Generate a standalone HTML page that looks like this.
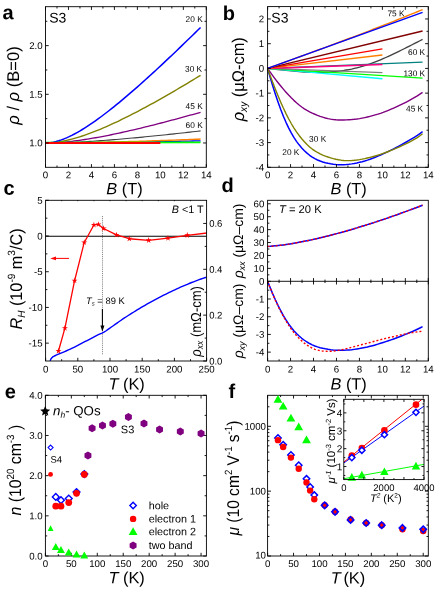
<!DOCTYPE html>
<html><head><meta charset="utf-8"><title>figure</title>
<style>html,body{margin:0;padding:0;background:#fff;}svg{display:block;will-change:transform;opacity:0.999;}text{font-family:"Liberation Sans",sans-serif;text-rendering:geometricPrecision;}</style></head>
<body>
<svg width="442" height="589" viewBox="0 0 442 589" font-family='"Liberation Sans", sans-serif'>
<rect x="0" y="0" width="442" height="589" fill="#fff"/>
<g>
<polyline points="45.5,142.97 48.13,142.97 50.76,142.96 53.38,142.96 56.01,142.95 58.64,142.94 61.27,142.93 63.9,142.92 66.52,142.91 69.15,142.89 71.78,142.87 74.41,142.86 77.04,142.84 79.67,142.82 82.29,142.79 84.92,142.77 87.55,142.74 90.18,142.72 92.81,142.69 95.43,142.66 98.06,142.63 100.69,142.6 103.32,142.57 105.95,142.54 108.57,142.5 111.2,142.47 113.83,142.43 116.46,142.39 119.09,142.35 121.71,142.32 124.34,142.28 126.97,142.24 129.6,142.19 132.23,142.15 134.85,142.11 137.48,142.07 140.11,142.02 142.74,141.98 145.37,141.93 148,141.88 150.62,141.84 153.25,141.79 155.88,141.74 158.51,141.69 161.14,141.64 163.76,141.59 166.39,141.54 169.02,141.49 171.65,141.43 174.28,141.38 176.9,141.33 179.53,141.27 182.16,141.22 184.79,141.16 187.42,141.11 190.04,141.05 192.67,141 195.3,140.94 197.93,140.88 200.56,140.83" fill="none" stroke="#00f" stroke-width="1.3" stroke-linejoin="round" stroke-linecap="butt" />
<polyline points="45.5,142.97 48.13,142.96 50.76,142.96 53.38,142.95 56.01,142.94 58.64,142.92 61.27,142.9 63.9,142.88 66.52,142.86 69.15,142.83 71.78,142.8 74.41,142.77 77.04,142.73 79.67,142.69 82.29,142.65 84.92,142.61 87.55,142.56 90.18,142.51 92.81,142.46 95.43,142.41 98.06,142.36 100.69,142.3 103.32,142.24 105.95,142.18 108.57,142.12 111.2,142.06 113.83,141.99 116.46,141.92 119.09,141.85 121.71,141.78 124.34,141.71 126.97,141.64 129.6,141.56 132.23,141.49 134.85,141.41 137.48,141.33 140.11,141.25 142.74,141.16 145.37,141.08 148,141 150.62,140.91 153.25,140.82 155.88,140.73 158.51,140.64 161.14,140.55 163.76,140.46 166.39,140.37 169.02,140.28 171.65,140.18 174.28,140.08 176.9,139.99 179.53,139.89 182.16,139.79 184.79,139.69 187.42,139.59 190.04,139.49 192.67,139.39 195.3,139.28 197.93,139.18 200.56,139.07" fill="none" stroke="#ff8000" stroke-width="1.4" stroke-linejoin="round" stroke-linecap="butt" />
<polyline points="45.5,142.97 48.13,142.96 50.76,142.94 53.38,142.91 56.01,142.86 58.64,142.8 61.27,142.73 63.9,142.65 66.52,142.56 69.15,142.47 71.78,142.36 74.41,142.24 77.04,142.12 79.67,141.98 82.29,141.84 84.92,141.69 87.55,141.54 90.18,141.38 92.81,141.21 95.43,141.04 98.06,140.86 100.69,140.67 103.32,140.48 105.95,140.28 108.57,140.08 111.2,139.87 113.83,139.66 116.46,139.45 119.09,139.23 121.71,139 124.34,138.78 126.97,138.55 129.6,138.31 132.23,138.07 134.85,137.83 137.48,137.58 140.11,137.33 142.74,137.08 145.37,136.82 148,136.57 150.62,136.31 153.25,136.04 155.88,135.77 158.51,135.51 161.14,135.23 163.76,134.96 166.39,134.68 169.02,134.4 171.65,134.12 174.28,133.84 176.9,133.55 179.53,133.27 182.16,132.98 184.79,132.68 187.42,132.39 190.04,132.1 192.67,131.8 195.3,131.5 197.93,131.2 200.56,130.9" fill="none" stroke="#404040" stroke-width="1.1" stroke-linejoin="round" stroke-linecap="butt" />
<polyline points="45.5,142.97 48.13,142.95 50.76,142.89 53.38,142.79 56.01,142.66 58.64,142.5 61.27,142.31 63.9,142.09 66.52,141.85 69.15,141.58 71.78,141.28 74.41,140.97 77.04,140.63 79.67,140.27 82.29,139.89 84.92,139.5 87.55,139.09 90.18,138.66 92.81,138.22 95.43,137.76 98.06,137.29 100.69,136.8 103.32,136.3 105.95,135.79 108.57,135.27 111.2,134.74 113.83,134.19 116.46,133.64 119.09,133.08 121.71,132.5 124.34,131.92 126.97,131.33 129.6,130.73 132.23,130.12 134.85,129.51 137.48,128.89 140.11,128.26 142.74,127.62 145.37,126.98 148,126.33 150.62,125.68 153.25,125.01 155.88,124.35 158.51,123.68 161.14,123 163.76,122.32 166.39,121.63 169.02,120.94 171.65,120.24 174.28,119.54 176.9,118.83 179.53,118.12 182.16,117.41 184.79,116.69 187.42,115.97 190.04,115.24 192.67,114.51 195.3,113.78 197.93,113.05 200.56,112.31" fill="none" stroke="#800080" stroke-width="1.3" stroke-linejoin="round" stroke-linecap="butt" />
<polyline points="45.5,142.97 48.13,142.92 50.76,142.78 53.38,142.56 56.01,142.26 58.64,141.89 61.27,141.46 63.9,140.95 66.52,140.39 69.15,139.78 71.78,139.11 74.41,138.39 77.04,137.63 79.67,136.82 82.29,135.97 84.92,135.08 87.55,134.15 90.18,133.19 92.81,132.2 95.43,131.17 98.06,130.12 100.69,129.03 103.32,127.92 105.95,126.79 108.57,125.63 111.2,124.44 113.83,123.23 116.46,122.01 119.09,120.76 121.71,119.49 124.34,118.2 126.97,116.9 129.6,115.58 132.23,114.24 134.85,112.88 137.48,111.52 140.11,110.13 142.74,108.73 145.37,107.32 148,105.9 150.62,104.46 153.25,103.02 155.88,101.56 158.51,100.09 161.14,98.6 163.76,97.11 166.39,95.61 169.02,94.1 171.65,92.58 174.28,91.05 176.9,89.51 179.53,87.96 182.16,86.41 184.79,84.85 187.42,83.28 190.04,81.7 192.67,80.11 195.3,78.52 197.93,76.92 200.56,75.32" fill="none" stroke="#808000" stroke-width="1.4" stroke-linejoin="round" stroke-linecap="butt" />
<polyline points="45.5,142.97 48.13,142.87 50.76,142.58 53.38,142.13 56.01,141.52 58.64,140.78 61.27,139.91 63.9,138.93 66.52,137.83 69.15,136.65 71.78,135.37 74.41,134.01 77.04,132.57 79.67,131.07 82.29,129.49 84.92,127.86 87.55,126.17 90.18,124.43 92.81,122.63 95.43,120.79 98.06,118.91 100.69,116.98 103.32,115.02 105.95,113.02 108.57,110.99 111.2,108.92 113.83,106.82 116.46,104.7 119.09,102.55 121.71,100.37 124.34,98.16 126.97,95.94 129.6,93.69 132.23,91.42 134.85,89.13 137.48,86.82 140.11,84.5 142.74,82.15 145.37,79.79 148,77.42 150.62,75.03 153.25,72.62 155.88,70.2 158.51,67.77 161.14,65.33 163.76,62.87 166.39,60.4 169.02,57.92 171.65,55.43 174.28,52.93 176.9,50.42 179.53,47.9 182.16,45.37 184.79,42.83 187.42,40.28 190.04,37.73 192.67,35.17 195.3,32.6 197.93,30.02 200.56,27.43" fill="none" stroke="#00f" stroke-width="1.5" stroke-linejoin="round" stroke-linecap="butt" />
<polyline points="45.5,142.67 200.56,142.38" fill="none" stroke="#0f0" stroke-width="1.8" stroke-linejoin="round" stroke-linecap="butt" />
<polyline points="45.5,142.97 160.36,142.97" fill="none" stroke="#f00" stroke-width="2.0" stroke-linejoin="round" stroke-linecap="butt" />
</g>
<rect x="45.5" y="6.7" width="160.8" height="160.6" fill="none" stroke="#000" stroke-width="0.9"/>
<line x1="45.5" y1="167.3" x2="45.5" y2="164.1" stroke="#000" stroke-width="0.9" />
<line x1="45.5" y1="6.7" x2="45.5" y2="9.9" stroke="#000" stroke-width="0.9" />
<line x1="68.47" y1="167.3" x2="68.47" y2="164.1" stroke="#000" stroke-width="0.9" />
<line x1="68.47" y1="6.7" x2="68.47" y2="9.9" stroke="#000" stroke-width="0.9" />
<line x1="91.44" y1="167.3" x2="91.44" y2="164.1" stroke="#000" stroke-width="0.9" />
<line x1="91.44" y1="6.7" x2="91.44" y2="9.9" stroke="#000" stroke-width="0.9" />
<line x1="114.41" y1="167.3" x2="114.41" y2="164.1" stroke="#000" stroke-width="0.9" />
<line x1="114.41" y1="6.7" x2="114.41" y2="9.9" stroke="#000" stroke-width="0.9" />
<line x1="137.39" y1="167.3" x2="137.39" y2="164.1" stroke="#000" stroke-width="0.9" />
<line x1="137.39" y1="6.7" x2="137.39" y2="9.9" stroke="#000" stroke-width="0.9" />
<line x1="160.36" y1="167.3" x2="160.36" y2="164.1" stroke="#000" stroke-width="0.9" />
<line x1="160.36" y1="6.7" x2="160.36" y2="9.9" stroke="#000" stroke-width="0.9" />
<line x1="183.33" y1="167.3" x2="183.33" y2="164.1" stroke="#000" stroke-width="0.9" />
<line x1="183.33" y1="6.7" x2="183.33" y2="9.9" stroke="#000" stroke-width="0.9" />
<line x1="206.3" y1="167.3" x2="206.3" y2="164.1" stroke="#000" stroke-width="0.9" />
<line x1="206.3" y1="6.7" x2="206.3" y2="9.9" stroke="#000" stroke-width="0.9" />
<line x1="56.99" y1="167.3" x2="56.99" y2="165.5" stroke="#000" stroke-width="0.9" />
<line x1="56.99" y1="6.7" x2="56.99" y2="8.5" stroke="#000" stroke-width="0.9" />
<line x1="79.96" y1="167.3" x2="79.96" y2="165.5" stroke="#000" stroke-width="0.9" />
<line x1="79.96" y1="6.7" x2="79.96" y2="8.5" stroke="#000" stroke-width="0.9" />
<line x1="102.93" y1="167.3" x2="102.93" y2="165.5" stroke="#000" stroke-width="0.9" />
<line x1="102.93" y1="6.7" x2="102.93" y2="8.5" stroke="#000" stroke-width="0.9" />
<line x1="125.9" y1="167.3" x2="125.9" y2="165.5" stroke="#000" stroke-width="0.9" />
<line x1="125.9" y1="6.7" x2="125.9" y2="8.5" stroke="#000" stroke-width="0.9" />
<line x1="148.87" y1="167.3" x2="148.87" y2="165.5" stroke="#000" stroke-width="0.9" />
<line x1="148.87" y1="6.7" x2="148.87" y2="8.5" stroke="#000" stroke-width="0.9" />
<line x1="171.84" y1="167.3" x2="171.84" y2="165.5" stroke="#000" stroke-width="0.9" />
<line x1="171.84" y1="6.7" x2="171.84" y2="8.5" stroke="#000" stroke-width="0.9" />
<line x1="194.81" y1="167.3" x2="194.81" y2="165.5" stroke="#000" stroke-width="0.9" />
<line x1="194.81" y1="6.7" x2="194.81" y2="8.5" stroke="#000" stroke-width="0.9" />
<line x1="45.5" y1="142.97" x2="48.7" y2="142.97" stroke="#000" stroke-width="0.9" />
<line x1="206.3" y1="142.97" x2="203.1" y2="142.97" stroke="#000" stroke-width="0.9" />
<line x1="45.5" y1="94.3" x2="48.7" y2="94.3" stroke="#000" stroke-width="0.9" />
<line x1="206.3" y1="94.3" x2="203.1" y2="94.3" stroke="#000" stroke-width="0.9" />
<line x1="45.5" y1="45.63" x2="48.7" y2="45.63" stroke="#000" stroke-width="0.9" />
<line x1="206.3" y1="45.63" x2="203.1" y2="45.63" stroke="#000" stroke-width="0.9" />
<line x1="45.5" y1="118.63" x2="47.3" y2="118.63" stroke="#000" stroke-width="0.9" />
<line x1="206.3" y1="118.63" x2="204.5" y2="118.63" stroke="#000" stroke-width="0.9" />
<line x1="45.5" y1="69.97" x2="47.3" y2="69.97" stroke="#000" stroke-width="0.9" />
<line x1="206.3" y1="69.97" x2="204.5" y2="69.97" stroke="#000" stroke-width="0.9" />
<line x1="45.5" y1="21.3" x2="47.3" y2="21.3" stroke="#000" stroke-width="0.9" />
<line x1="206.3" y1="21.3" x2="204.5" y2="21.3" stroke="#000" stroke-width="0.9" />
<text x="0" y="0" font-size="9.7" text-anchor="middle" font-weight="normal" font-style="normal" fill="#000" transform="translate(45.5 178.3) rotate(0.03) scale(1 1)" >0</text>
<text x="0" y="0" font-size="9.7" text-anchor="middle" font-weight="normal" font-style="normal" fill="#000" transform="translate(68.47 178.3) rotate(0.03) scale(1 1)" >2</text>
<text x="0" y="0" font-size="9.7" text-anchor="middle" font-weight="normal" font-style="normal" fill="#000" transform="translate(91.44 178.3) rotate(0.03) scale(1 1)" >4</text>
<text x="0" y="0" font-size="9.7" text-anchor="middle" font-weight="normal" font-style="normal" fill="#000" transform="translate(114.41 178.3) rotate(0.03) scale(1 1)" >6</text>
<text x="0" y="0" font-size="9.7" text-anchor="middle" font-weight="normal" font-style="normal" fill="#000" transform="translate(137.39 178.3) rotate(0.03) scale(1 1)" >8</text>
<text x="0" y="0" font-size="9.7" text-anchor="middle" font-weight="normal" font-style="normal" fill="#000" transform="translate(160.36 178.3) rotate(0.03) scale(1 1)" >10</text>
<text x="0" y="0" font-size="9.7" text-anchor="middle" font-weight="normal" font-style="normal" fill="#000" transform="translate(183.33 178.3) rotate(0.03) scale(1 1)" >12</text>
<text x="0" y="0" font-size="9.7" text-anchor="middle" font-weight="normal" font-style="normal" fill="#000" transform="translate(206.3 178.3) rotate(0.03) scale(1 1)" >14</text>
<text x="0" y="0" font-size="9.7" text-anchor="end" font-weight="normal" font-style="normal" fill="#000" transform="translate(42.7 146.37) rotate(0.03) scale(1 1)" >1.0</text>
<text x="0" y="0" font-size="9.7" text-anchor="end" font-weight="normal" font-style="normal" fill="#000" transform="translate(42.7 97.7) rotate(0.03) scale(1 1)" >1.5</text>
<text x="0" y="0" font-size="9.7" text-anchor="end" font-weight="normal" font-style="normal" fill="#000" transform="translate(42.7 49.03) rotate(0.03) scale(1 1)" >2.0</text>
<text x="0" y="0" font-size="16.4" text-anchor="middle" font-weight="normal" font-style="normal" fill="#000" transform="translate(124.4 194.2) rotate(0.03) scale(1 1)" ><tspan font-style="italic">B</tspan> (T)</text>
<text x="0" y="0" font-size="17" text-anchor="middle" font-weight="normal" font-style="normal" fill="#000" transform="translate(18.6 85.5) rotate(-90) scale(0.975 1)" ><tspan font-style="italic">&#961;</tspan> / <tspan font-style="italic">&#961;</tspan> (B=0)</text>
<text x="0" y="0" font-size="20" text-anchor="start" font-weight="bold" font-style="normal" fill="#000" transform="translate(2.5 19.2) rotate(0.03) scale(1 1)" >a</text>
<text x="0" y="0" font-size="14" text-anchor="start" font-weight="normal" font-style="normal" fill="#000" transform="translate(49.2 22.6) rotate(0.03) scale(1 1)" >S3</text>
<text x="0" y="0" font-size="8.3" text-anchor="end" font-weight="normal" font-style="normal" fill="#000" transform="translate(202.7 22) rotate(0.03) scale(1 1)" >20 K</text>
<text x="0" y="0" font-size="8.3" text-anchor="end" font-weight="normal" font-style="normal" fill="#000" transform="translate(202.1 71.7) rotate(0.03) scale(1 1)" >30 K</text>
<text x="0" y="0" font-size="8.3" text-anchor="end" font-weight="normal" font-style="normal" fill="#000" transform="translate(202.7 109) rotate(0.03) scale(1 1)" >45 K</text>
<text x="0" y="0" font-size="8.3" text-anchor="end" font-weight="normal" font-style="normal" fill="#000" transform="translate(202.7 128) rotate(0.03) scale(1 1)" >60 K</text>
<g>
<polyline points="267.6,68.41 270.23,72.18 272.85,75.83 275.48,79.35 278.11,82.76 280.73,86.03 283.36,89.17 285.99,92.18 288.61,95.05 291.24,97.78 293.86,100.36 296.49,102.78 299.12,105 301.74,107.01 304.37,108.8 307,110.38 309.62,111.8 312.25,113.07 314.88,114.25 317.5,115.33 320.13,116.32 322.76,117.2 325.38,117.96 328.01,118.59 330.63,119.11 333.26,119.5 335.89,119.78 338.51,119.95 341.14,120.02 343.77,120 346.39,119.91 349.02,119.76 351.65,119.56 354.27,119.3 356.9,118.97 359.53,118.58 362.15,118.11 364.78,117.58 367.41,116.99 370.03,116.35 372.66,115.66 375.28,114.93 377.91,114.15 380.54,113.3 383.16,112.38 385.79,111.38 388.42,110.32 391.04,109.2 393.67,108.05 396.3,106.87 398.92,105.66 401.55,104.41 404.18,103.12 406.8,101.77 409.43,100.37 412.05,98.91 414.68,97.39 417.31,95.8 419.93,94.13 422.56,92.39" fill="none" stroke="#800080" stroke-width="1.4" stroke-linejoin="round" stroke-linecap="butt" />
<polyline points="267.6,68.41 270.23,77.59 272.85,86.3 275.48,94.53 278.11,102.26 280.73,109.48 283.36,116.18 285.99,122.33 288.61,127.92 291.24,132.94 293.86,137.4 296.49,141.35 299.12,144.84 301.74,147.94 304.37,150.7 307,153.14 309.62,155.28 312.25,157.12 314.88,158.68 317.5,159.98 320.13,161.06 322.76,161.95 325.38,162.71 328.01,163.34 330.63,163.86 333.26,164.26 335.89,164.54 338.51,164.69 341.14,164.73 343.77,164.65 346.39,164.48 349.02,164.22 351.65,163.87 354.27,163.44 356.9,162.92 359.53,162.33 362.15,161.66 364.78,160.92 367.41,160.1 370.03,159.21 372.66,158.25 375.28,157.22 377.91,156.14 380.54,155.01 383.16,153.85 385.79,152.65 388.42,151.43 391.04,150.16 393.67,148.86 396.3,147.51 398.92,146.12 401.55,144.69 404.18,143.23 406.8,141.75 409.43,140.22 412.05,138.65 414.68,137.03 417.31,135.34 419.93,133.56 422.56,131.7" fill="none" stroke="#00f" stroke-width="1.5" stroke-linejoin="round" stroke-linecap="butt" />
<polyline points="267.6,68.41 270.23,75.67 272.85,82.71 275.48,89.49 278.11,95.99 280.73,102.19 283.36,108.06 285.99,113.59 288.61,118.74 291.24,123.5 293.86,127.85 296.49,131.83 299.12,135.46 301.74,138.77 304.37,141.78 307,144.5 309.62,146.93 312.25,149.07 314.88,150.92 317.5,152.49 320.13,153.85 322.76,155.03 325.38,156.08 328.01,157.03 330.63,157.88 333.26,158.63 335.89,159.26 338.51,159.78 341.14,160.18 343.77,160.45 346.39,160.6 349.02,160.62 351.65,160.52 354.27,160.31 356.9,160.01 359.53,159.62 362.15,159.16 364.78,158.63 367.41,158.03 370.03,157.39 372.66,156.7 375.28,155.96 377.91,155.17 380.54,154.33 383.16,153.43 385.79,152.48 388.42,151.48 391.04,150.43 393.67,149.33 396.3,148.2 398.92,147.04 401.55,145.84 404.18,144.61 406.8,143.36 409.43,142.07 412.05,140.69 414.68,139.2 417.31,137.56 419.93,135.73 422.56,133.68" fill="none" stroke="#808000" stroke-width="1.4" stroke-linejoin="round" stroke-linecap="butt" />
<polyline points="267.6,68.41 270.23,68.69 272.85,68.97 275.48,69.26 278.11,69.55 280.73,69.84 283.36,70.13 285.99,70.41 288.61,70.68 291.24,70.95 293.86,71.2 296.49,71.43 299.12,71.64 301.74,71.83 304.37,72 307,72.14 309.62,72.26 312.25,72.34 314.88,72.38 317.5,72.39 320.13,72.37 322.76,72.31 325.38,72.21 328.01,72.07 330.63,71.9 333.26,71.69 335.89,71.44 338.51,71.14 341.14,70.81 343.77,70.44 346.39,70.01 349.02,69.54 351.65,69.03 354.27,68.45 356.9,67.83 359.53,67.15 362.15,66.4 364.78,65.61 367.41,64.76 370.03,63.86 372.66,62.91 375.28,61.91 377.91,60.87 380.54,59.8 383.16,58.68 385.79,57.52 388.42,56.34 391.04,55.12 393.67,53.88 396.3,52.62 398.92,51.34 401.55,50.04 404.18,48.72 406.8,47.4 409.43,46.07 412.05,44.73 414.68,43.39 417.31,42.06 419.93,40.73 422.56,39.41" fill="none" stroke="#404040" stroke-width="1.3" stroke-linejoin="round" stroke-linecap="butt" />
<polyline points="267.6,68.41 382.39,78.79" fill="none" stroke="#0ff" stroke-width="1.4" stroke-linejoin="round" stroke-linecap="butt" />
<polyline points="267.6,68.41 422.56,78.05" fill="none" stroke="#0f0" stroke-width="1.3" stroke-linejoin="round" stroke-linecap="butt" />
<polyline points="267.6,68.41 382.39,72.71" fill="none" stroke="#808080" stroke-width="1.3" stroke-linejoin="round" stroke-linecap="butt" />
<polyline points="267.6,68.41 422.56,62.1" fill="none" stroke="#008080" stroke-width="1.3" stroke-linejoin="round" stroke-linecap="butt" />
<polyline points="267.6,68.41 382.39,64.45" fill="none" stroke="#ff0080" stroke-width="1.5" stroke-linejoin="round" stroke-linecap="butt" />
<polyline points="267.6,68.41 382.39,55.06" fill="none" stroke="#ff8000" stroke-width="1.4" stroke-linejoin="round" stroke-linecap="butt" />
<polyline points="267.6,68.41 382.39,48.88" fill="none" stroke="#f00" stroke-width="1.4" stroke-linejoin="round" stroke-linecap="butt" />
<polyline points="267.6,68.41 422.56,31" fill="none" stroke="#800000" stroke-width="1.4" stroke-linejoin="round" stroke-linecap="butt" />
<polyline points="267.6,68.41 270.23,67.46 272.85,66.51 275.48,65.55 278.11,64.6 280.73,63.65 283.36,62.7 285.99,61.74 288.61,60.79 291.24,59.84 293.86,58.88 296.49,57.93 299.12,56.97 301.74,56.01 304.37,55.05 307,54.09 309.62,53.13 312.25,52.17 314.88,51.21 317.5,50.24 320.13,49.28 322.76,48.31 325.38,47.34 328.01,46.37 330.63,45.4 333.26,44.42 335.89,43.44 338.51,42.46 341.14,41.48 343.77,40.5 346.39,39.51 349.02,38.53 351.65,37.54 354.27,36.54 356.9,35.55 359.53,34.55 362.15,33.55 364.78,32.54 367.41,31.54 370.03,30.53 372.66,29.51 375.28,28.5 377.91,27.48 380.54,26.45 383.16,25.43 385.79,24.4 388.42,23.36 391.04,22.33 393.67,21.29 396.3,20.24 398.92,19.19 401.55,18.14 404.18,17.08 406.8,16.02 409.43,14.96 412.05,13.89 414.68,12.81 417.31,11.74 419.93,10.65 422.56,9.57" fill="none" stroke="#ff8000" stroke-width="1.4" stroke-linejoin="round" stroke-linecap="butt" />
<polyline points="267.6,68.41 422.56,12.29" fill="none" stroke="#00f" stroke-width="1.4" stroke-linejoin="round" stroke-linecap="butt" />
</g>
<rect x="267.6" y="6.6" width="160.7" height="160.7" fill="none" stroke="#000" stroke-width="0.9"/>
<line x1="267.6" y1="167.3" x2="267.6" y2="164.1" stroke="#000" stroke-width="0.9" />
<line x1="267.6" y1="6.6" x2="267.6" y2="9.8" stroke="#000" stroke-width="0.9" />
<line x1="290.56" y1="167.3" x2="290.56" y2="164.1" stroke="#000" stroke-width="0.9" />
<line x1="290.56" y1="6.6" x2="290.56" y2="9.8" stroke="#000" stroke-width="0.9" />
<line x1="313.51" y1="167.3" x2="313.51" y2="164.1" stroke="#000" stroke-width="0.9" />
<line x1="313.51" y1="6.6" x2="313.51" y2="9.8" stroke="#000" stroke-width="0.9" />
<line x1="336.47" y1="167.3" x2="336.47" y2="164.1" stroke="#000" stroke-width="0.9" />
<line x1="336.47" y1="6.6" x2="336.47" y2="9.8" stroke="#000" stroke-width="0.9" />
<line x1="359.43" y1="167.3" x2="359.43" y2="164.1" stroke="#000" stroke-width="0.9" />
<line x1="359.43" y1="6.6" x2="359.43" y2="9.8" stroke="#000" stroke-width="0.9" />
<line x1="382.39" y1="167.3" x2="382.39" y2="164.1" stroke="#000" stroke-width="0.9" />
<line x1="382.39" y1="6.6" x2="382.39" y2="9.8" stroke="#000" stroke-width="0.9" />
<line x1="405.34" y1="167.3" x2="405.34" y2="164.1" stroke="#000" stroke-width="0.9" />
<line x1="405.34" y1="6.6" x2="405.34" y2="9.8" stroke="#000" stroke-width="0.9" />
<line x1="428.3" y1="167.3" x2="428.3" y2="164.1" stroke="#000" stroke-width="0.9" />
<line x1="428.3" y1="6.6" x2="428.3" y2="9.8" stroke="#000" stroke-width="0.9" />
<line x1="279.08" y1="167.3" x2="279.08" y2="165.5" stroke="#000" stroke-width="0.9" />
<line x1="279.08" y1="6.6" x2="279.08" y2="8.4" stroke="#000" stroke-width="0.9" />
<line x1="302.04" y1="167.3" x2="302.04" y2="165.5" stroke="#000" stroke-width="0.9" />
<line x1="302.04" y1="6.6" x2="302.04" y2="8.4" stroke="#000" stroke-width="0.9" />
<line x1="324.99" y1="167.3" x2="324.99" y2="165.5" stroke="#000" stroke-width="0.9" />
<line x1="324.99" y1="6.6" x2="324.99" y2="8.4" stroke="#000" stroke-width="0.9" />
<line x1="347.95" y1="167.3" x2="347.95" y2="165.5" stroke="#000" stroke-width="0.9" />
<line x1="347.95" y1="6.6" x2="347.95" y2="8.4" stroke="#000" stroke-width="0.9" />
<line x1="370.91" y1="167.3" x2="370.91" y2="165.5" stroke="#000" stroke-width="0.9" />
<line x1="370.91" y1="6.6" x2="370.91" y2="8.4" stroke="#000" stroke-width="0.9" />
<line x1="393.86" y1="167.3" x2="393.86" y2="165.5" stroke="#000" stroke-width="0.9" />
<line x1="393.86" y1="6.6" x2="393.86" y2="8.4" stroke="#000" stroke-width="0.9" />
<line x1="416.82" y1="167.3" x2="416.82" y2="165.5" stroke="#000" stroke-width="0.9" />
<line x1="416.82" y1="6.6" x2="416.82" y2="8.4" stroke="#000" stroke-width="0.9" />
<line x1="267.6" y1="167.3" x2="270.8" y2="167.3" stroke="#000" stroke-width="0.9" />
<line x1="428.3" y1="167.3" x2="425.1" y2="167.3" stroke="#000" stroke-width="0.9" />
<line x1="267.6" y1="142.58" x2="270.8" y2="142.58" stroke="#000" stroke-width="0.9" />
<line x1="428.3" y1="142.58" x2="425.1" y2="142.58" stroke="#000" stroke-width="0.9" />
<line x1="267.6" y1="117.85" x2="270.8" y2="117.85" stroke="#000" stroke-width="0.9" />
<line x1="428.3" y1="117.85" x2="425.1" y2="117.85" stroke="#000" stroke-width="0.9" />
<line x1="267.6" y1="93.13" x2="270.8" y2="93.13" stroke="#000" stroke-width="0.9" />
<line x1="428.3" y1="93.13" x2="425.1" y2="93.13" stroke="#000" stroke-width="0.9" />
<line x1="267.6" y1="68.41" x2="270.8" y2="68.41" stroke="#000" stroke-width="0.9" />
<line x1="428.3" y1="68.41" x2="425.1" y2="68.41" stroke="#000" stroke-width="0.9" />
<line x1="267.6" y1="43.68" x2="270.8" y2="43.68" stroke="#000" stroke-width="0.9" />
<line x1="428.3" y1="43.68" x2="425.1" y2="43.68" stroke="#000" stroke-width="0.9" />
<line x1="267.6" y1="18.96" x2="270.8" y2="18.96" stroke="#000" stroke-width="0.9" />
<line x1="428.3" y1="18.96" x2="425.1" y2="18.96" stroke="#000" stroke-width="0.9" />
<line x1="267.6" y1="154.94" x2="269.4" y2="154.94" stroke="#000" stroke-width="0.9" />
<line x1="428.3" y1="154.94" x2="426.5" y2="154.94" stroke="#000" stroke-width="0.9" />
<line x1="267.6" y1="130.22" x2="269.4" y2="130.22" stroke="#000" stroke-width="0.9" />
<line x1="428.3" y1="130.22" x2="426.5" y2="130.22" stroke="#000" stroke-width="0.9" />
<line x1="267.6" y1="105.49" x2="269.4" y2="105.49" stroke="#000" stroke-width="0.9" />
<line x1="428.3" y1="105.49" x2="426.5" y2="105.49" stroke="#000" stroke-width="0.9" />
<line x1="267.6" y1="80.77" x2="269.4" y2="80.77" stroke="#000" stroke-width="0.9" />
<line x1="428.3" y1="80.77" x2="426.5" y2="80.77" stroke="#000" stroke-width="0.9" />
<line x1="267.6" y1="56.05" x2="269.4" y2="56.05" stroke="#000" stroke-width="0.9" />
<line x1="428.3" y1="56.05" x2="426.5" y2="56.05" stroke="#000" stroke-width="0.9" />
<line x1="267.6" y1="31.32" x2="269.4" y2="31.32" stroke="#000" stroke-width="0.9" />
<line x1="428.3" y1="31.32" x2="426.5" y2="31.32" stroke="#000" stroke-width="0.9" />
<text x="0" y="0" font-size="9.7" text-anchor="middle" font-weight="normal" font-style="normal" fill="#000" transform="translate(267.6 178.3) rotate(0.03) scale(1 1)" >0</text>
<text x="0" y="0" font-size="9.7" text-anchor="middle" font-weight="normal" font-style="normal" fill="#000" transform="translate(290.56 178.3) rotate(0.03) scale(1 1)" >2</text>
<text x="0" y="0" font-size="9.7" text-anchor="middle" font-weight="normal" font-style="normal" fill="#000" transform="translate(313.51 178.3) rotate(0.03) scale(1 1)" >4</text>
<text x="0" y="0" font-size="9.7" text-anchor="middle" font-weight="normal" font-style="normal" fill="#000" transform="translate(336.47 178.3) rotate(0.03) scale(1 1)" >6</text>
<text x="0" y="0" font-size="9.7" text-anchor="middle" font-weight="normal" font-style="normal" fill="#000" transform="translate(359.43 178.3) rotate(0.03) scale(1 1)" >8</text>
<text x="0" y="0" font-size="9.7" text-anchor="middle" font-weight="normal" font-style="normal" fill="#000" transform="translate(382.39 178.3) rotate(0.03) scale(1 1)" >10</text>
<text x="0" y="0" font-size="9.7" text-anchor="middle" font-weight="normal" font-style="normal" fill="#000" transform="translate(405.34 178.3) rotate(0.03) scale(1 1)" >12</text>
<text x="0" y="0" font-size="9.7" text-anchor="middle" font-weight="normal" font-style="normal" fill="#000" transform="translate(428.3 178.3) rotate(0.03) scale(1 1)" >14</text>
<text x="0" y="0" font-size="9.7" text-anchor="end" font-weight="normal" font-style="normal" fill="#000" transform="translate(264.2 170.7) rotate(0.03) scale(1 1)" >-4</text>
<text x="0" y="0" font-size="9.7" text-anchor="end" font-weight="normal" font-style="normal" fill="#000" transform="translate(264.2 145.98) rotate(0.03) scale(1 1)" >-3</text>
<text x="0" y="0" font-size="9.7" text-anchor="end" font-weight="normal" font-style="normal" fill="#000" transform="translate(264.2 121.25) rotate(0.03) scale(1 1)" >-2</text>
<text x="0" y="0" font-size="9.7" text-anchor="end" font-weight="normal" font-style="normal" fill="#000" transform="translate(264.2 96.53) rotate(0.03) scale(1 1)" >-1</text>
<text x="0" y="0" font-size="9.7" text-anchor="end" font-weight="normal" font-style="normal" fill="#000" transform="translate(264.2 71.81) rotate(0.03) scale(1 1)" >0</text>
<text x="0" y="0" font-size="9.7" text-anchor="end" font-weight="normal" font-style="normal" fill="#000" transform="translate(264.2 47.08) rotate(0.03) scale(1 1)" >1</text>
<text x="0" y="0" font-size="9.7" text-anchor="end" font-weight="normal" font-style="normal" fill="#000" transform="translate(264.2 22.36) rotate(0.03) scale(1 1)" >2</text>
<text x="0" y="0" font-size="16.4" text-anchor="middle" font-weight="normal" font-style="normal" fill="#000" transform="translate(348.6 194.2) rotate(0.03) scale(1 1)" ><tspan font-style="italic">B</tspan> (T)</text>
<text x="0" y="0" font-size="17" text-anchor="middle" font-weight="normal" font-style="normal" fill="#000" transform="translate(243.9 79.25) rotate(-90) scale(0.965 1)" ><tspan font-style="italic">&#961;</tspan><tspan font-size="10.5" dy="3.5" font-style="italic">xy</tspan><tspan dy="-3.5" font-size="1">&#8203;</tspan> (&#956;&#937;-cm)</text>
<text x="0" y="0" font-size="20" text-anchor="start" font-weight="bold" font-style="normal" fill="#000" transform="translate(222.7 20) rotate(0.03) scale(1 1)" >b</text>
<text x="0" y="0" font-size="14" text-anchor="start" font-weight="normal" font-style="normal" fill="#000" transform="translate(271.3 22.6) rotate(0.03) scale(1 1)" >S3</text>
<text x="0" y="0" font-size="8.3" text-anchor="end" font-weight="normal" font-style="normal" fill="#000" transform="translate(404.5 16.2) rotate(0.03) scale(1 1)" >75 K</text>
<text x="0" y="0" font-size="8.3" text-anchor="end" font-weight="normal" font-style="normal" fill="#000" transform="translate(425.1 55.1) rotate(0.03) scale(1 1)" >60 K</text>
<text x="0" y="0" font-size="8.3" text-anchor="end" font-weight="normal" font-style="normal" fill="#000" transform="translate(425.1 76.2) rotate(0.03) scale(1 1)" >130 K</text>
<text x="0" y="0" font-size="8.3" text-anchor="end" font-weight="normal" font-style="normal" fill="#000" transform="translate(423.1 111.5) rotate(0.03) scale(1 1)" >45 K</text>
<text x="0" y="0" font-size="8.3" text-anchor="start" font-weight="normal" font-style="normal" fill="#000" transform="translate(309.1 141.7) rotate(0.03) scale(1 1)" >30 K</text>
<text x="0" y="0" font-size="8.3" text-anchor="start" font-weight="normal" font-style="normal" fill="#000" transform="translate(282.3 154.9) rotate(0.03) scale(1 1)" >20 K</text>
<line x1="102.5" y1="216" x2="102.5" y2="355" stroke="#555" stroke-width="0.7" stroke-dasharray="1 0.9"/>
<line x1="45.6" y1="236.2" x2="206.6" y2="236.2" stroke="#000" stroke-width="1.1" />
<clipPath id="cc"><rect x="45.6" y="200.3" width="161" height="160.7"/></clipPath>
<g clip-path="url(#cc)">
<polyline points="50.11,361 50.71,359.39 51.3,358.44 51.9,357.74 52.5,357.15 53.1,356.65 53.7,356.29 54.29,356.01 54.89,355.76 55.49,355.5 56.09,355.23 56.69,354.97 57.28,354.71 57.88,354.46 58.48,354.2 59.12,353.93 60.99,353.15 62.86,352.38 64.72,351.59 66.59,350.76 68.46,349.91 70.32,349.04 72.19,348.16 74.06,347.26 75.93,346.33 77.79,345.38 79.66,344.4 81.53,343.42 83.39,342.44 85.26,341.47 87.13,340.51 88.99,339.55 90.86,338.59 92.73,337.62 94.59,336.63 96.46,335.6 98.33,334.64 100.19,333.83 102.06,333.07 103.93,332.16 105.79,330.99 107.66,329.68 109.53,328.33 111.39,327.02 113.26,325.7 115.13,324.38 116.99,323.06 118.86,321.75 120.73,320.46 122.59,319.19 124.46,317.95 126.33,316.73 128.2,315.53 130.06,314.34 131.93,313.17 133.8,312.01 135.66,310.86 137.53,309.72 139.4,308.59 141.26,307.47 143.13,306.37 145,305.28 146.86,304.21 148.73,303.15 150.6,302.11 152.46,301.08 154.33,300.07 156.2,299.07 158.06,298.09 159.93,297.12 161.8,296.16 163.66,295.21 165.53,294.27 167.4,293.35 169.26,292.44 171.13,291.54 173,290.66 174.86,289.78 176.73,288.92 178.6,288.07 180.47,287.23 182.33,286.41 184.2,285.6 186.07,284.81 187.93,284.03 189.8,283.27 191.67,282.52 193.53,281.79 195.4,281.07 197.27,280.36 199.13,279.67 201,279 202.87,278.35 204.73,277.72 206.6,277.1" fill="none" stroke="#00f" stroke-width="1.4" stroke-linejoin="round" stroke-linecap="butt" />
<polyline points="58.48,351 64.92,328.15 74.58,280.72 84.24,242.44 93.9,224.94 98.41,224.44 103.56,228.51 116.44,234.94 129.32,238.73 148.64,240.3 167.96,238.15 187.28,235.3 213.04,232.3" fill="none" stroke="#f00" stroke-width="1.3" stroke-linejoin="round" stroke-linecap="butt" />
<path d="M58.48,347.8 L57.8,350.07 L55.44,350.01 L57.38,351.36 L56.6,353.59 L58.48,352.15 L60.36,353.59 L59.58,351.36 L61.52,350.01 L59.16,350.07 Z" fill="#f00"/>
<path d="M64.92,324.95 L64.24,327.21 L61.88,327.16 L63.82,328.5 L63.04,330.73 L64.92,329.3 L66.8,330.73 L66.02,328.5 L67.96,327.16 L65.6,327.21 Z" fill="#f00"/>
<path d="M74.58,277.52 L73.9,279.79 L71.54,279.73 L73.48,281.08 L72.7,283.31 L74.58,281.87 L76.46,283.31 L75.68,281.08 L77.62,279.73 L75.26,279.79 Z" fill="#f00"/>
<path d="M84.24,239.24 L83.56,241.51 L81.2,241.45 L83.14,242.8 L82.36,245.03 L84.24,243.59 L86.12,245.03 L85.34,242.8 L87.28,241.45 L84.92,241.51 Z" fill="#f00"/>
<path d="M93.9,221.74 L93.22,224.01 L90.86,223.95 L92.8,225.3 L92.02,227.53 L93.9,226.09 L95.78,227.53 L95,225.3 L96.94,223.95 L94.58,224.01 Z" fill="#f00"/>
<path d="M98.41,221.24 L97.73,223.51 L95.36,223.45 L97.31,224.8 L96.53,227.03 L98.41,225.59 L100.29,227.03 L99.5,224.8 L101.45,223.45 L99.09,223.51 Z" fill="#f00"/>
<path d="M103.56,225.31 L102.88,227.58 L100.52,227.52 L102.46,228.87 L101.68,231.1 L103.56,229.66 L105.44,231.1 L104.66,228.87 L106.6,227.52 L104.24,227.58 Z" fill="#f00"/>
<path d="M116.44,231.74 L115.76,234.01 L113.4,233.95 L115.34,235.3 L114.56,237.53 L116.44,236.09 L118.32,237.53 L117.54,235.3 L119.48,233.95 L117.12,234.01 Z" fill="#f00"/>
<path d="M129.32,235.53 L128.64,237.79 L126.28,237.74 L128.22,239.08 L127.44,241.31 L129.32,239.88 L131.2,241.31 L130.42,239.08 L132.36,237.74 L130,237.79 Z" fill="#f00"/>
<path d="M148.64,237.1 L147.96,239.36 L145.6,239.31 L147.54,240.65 L146.76,242.89 L148.64,241.45 L150.52,242.89 L149.74,240.65 L151.68,239.31 L149.32,239.36 Z" fill="#f00"/>
<path d="M167.96,234.95 L167.28,237.22 L164.92,237.16 L166.86,238.51 L166.08,240.74 L167.96,239.31 L169.84,240.74 L169.06,238.51 L171,237.16 L168.64,237.22 Z" fill="#f00"/>
<path d="M187.28,232.1 L186.6,234.36 L184.24,234.31 L186.18,235.65 L185.4,237.89 L187.28,236.45 L189.16,237.89 L188.38,235.65 L190.32,234.31 L187.96,234.36 Z" fill="#f00"/>
<path d="M213.04,229.1 L212.36,231.37 L210,231.31 L211.94,232.65 L211.16,234.89 L213.04,233.45 L214.92,234.89 L214.14,232.65 L216.08,231.31 L213.72,231.37 Z" fill="#f00"/>
</g>
<rect x="45.6" y="200.3" width="161" height="160.7" fill="none" stroke="#000" stroke-width="0.9"/>
<line x1="45.6" y1="361" x2="45.6" y2="357.8" stroke="#000" stroke-width="0.9" />
<line x1="77.8" y1="361" x2="77.8" y2="357.8" stroke="#000" stroke-width="0.9" />
<line x1="110" y1="361" x2="110" y2="357.8" stroke="#000" stroke-width="0.9" />
<line x1="142.2" y1="361" x2="142.2" y2="357.8" stroke="#000" stroke-width="0.9" />
<line x1="174.4" y1="361" x2="174.4" y2="357.8" stroke="#000" stroke-width="0.9" />
<line x1="206.6" y1="361" x2="206.6" y2="357.8" stroke="#000" stroke-width="0.9" />
<line x1="61.7" y1="361" x2="61.7" y2="359.2" stroke="#000" stroke-width="0.9" />
<line x1="93.9" y1="361" x2="93.9" y2="359.2" stroke="#000" stroke-width="0.9" />
<line x1="126.1" y1="361" x2="126.1" y2="359.2" stroke="#000" stroke-width="0.9" />
<line x1="158.3" y1="361" x2="158.3" y2="359.2" stroke="#000" stroke-width="0.9" />
<line x1="190.5" y1="361" x2="190.5" y2="359.2" stroke="#000" stroke-width="0.9" />
<line x1="61.7" y1="200.3" x2="61.7" y2="201.2" stroke="#000" stroke-width="0.9" />
<line x1="77.8" y1="200.3" x2="77.8" y2="201.2" stroke="#000" stroke-width="0.9" />
<line x1="93.9" y1="200.3" x2="93.9" y2="201.2" stroke="#000" stroke-width="0.9" />
<line x1="110" y1="200.3" x2="110" y2="201.2" stroke="#000" stroke-width="0.9" />
<line x1="126.1" y1="200.3" x2="126.1" y2="201.2" stroke="#000" stroke-width="0.9" />
<line x1="142.2" y1="200.3" x2="142.2" y2="201.2" stroke="#000" stroke-width="0.9" />
<line x1="158.3" y1="200.3" x2="158.3" y2="201.2" stroke="#000" stroke-width="0.9" />
<line x1="174.4" y1="200.3" x2="174.4" y2="201.2" stroke="#000" stroke-width="0.9" />
<line x1="190.5" y1="200.3" x2="190.5" y2="201.2" stroke="#000" stroke-width="0.9" />
<line x1="45.6" y1="200.3" x2="48.8" y2="200.3" stroke="#000" stroke-width="0.9" />
<line x1="45.6" y1="236.01" x2="48.8" y2="236.01" stroke="#000" stroke-width="0.9" />
<line x1="45.6" y1="271.72" x2="48.8" y2="271.72" stroke="#000" stroke-width="0.9" />
<line x1="45.6" y1="307.43" x2="48.8" y2="307.43" stroke="#000" stroke-width="0.9" />
<line x1="45.6" y1="343.14" x2="48.8" y2="343.14" stroke="#000" stroke-width="0.9" />
<line x1="45.6" y1="218.16" x2="47.4" y2="218.16" stroke="#000" stroke-width="0.9" />
<line x1="45.6" y1="253.87" x2="47.4" y2="253.87" stroke="#000" stroke-width="0.9" />
<line x1="45.6" y1="289.58" x2="47.4" y2="289.58" stroke="#000" stroke-width="0.9" />
<line x1="45.6" y1="325.29" x2="47.4" y2="325.29" stroke="#000" stroke-width="0.9" />
<line x1="206.6" y1="361" x2="203.2" y2="361" stroke="#000" stroke-width="0.9" />
<line x1="206.6" y1="315.15" x2="203.2" y2="315.15" stroke="#000" stroke-width="0.9" />
<line x1="206.6" y1="269.3" x2="203.2" y2="269.3" stroke="#000" stroke-width="0.9" />
<line x1="206.6" y1="223.45" x2="203.2" y2="223.45" stroke="#000" stroke-width="0.9" />
<line x1="206.6" y1="338.08" x2="204.7" y2="338.08" stroke="#000" stroke-width="0.9" />
<line x1="206.6" y1="292.23" x2="204.7" y2="292.23" stroke="#000" stroke-width="0.9" />
<line x1="206.6" y1="246.38" x2="204.7" y2="246.38" stroke="#000" stroke-width="0.9" />
<text x="0" y="0" font-size="9.7" text-anchor="middle" font-weight="normal" font-style="normal" fill="#000" transform="translate(45.6 372.4) rotate(0.03) scale(1 1)" >0</text>
<text x="0" y="0" font-size="9.7" text-anchor="middle" font-weight="normal" font-style="normal" fill="#000" transform="translate(77.8 372.4) rotate(0.03) scale(1 1)" >50</text>
<text x="0" y="0" font-size="9.7" text-anchor="middle" font-weight="normal" font-style="normal" fill="#000" transform="translate(110 372.4) rotate(0.03) scale(1 1)" >100</text>
<text x="0" y="0" font-size="9.7" text-anchor="middle" font-weight="normal" font-style="normal" fill="#000" transform="translate(142.2 372.4) rotate(0.03) scale(1 1)" >150</text>
<text x="0" y="0" font-size="9.7" text-anchor="middle" font-weight="normal" font-style="normal" fill="#000" transform="translate(174.4 372.4) rotate(0.03) scale(1 1)" >200</text>
<text x="0" y="0" font-size="9.7" text-anchor="middle" font-weight="normal" font-style="normal" fill="#000" transform="translate(206.6 372.4) rotate(0.03) scale(1 1)" >250</text>
<text x="0" y="0" font-size="9.7" text-anchor="end" font-weight="normal" font-style="normal" fill="#000" transform="translate(42.6 203.7) rotate(0.03) scale(1 1)" >5</text>
<text x="0" y="0" font-size="9.7" text-anchor="end" font-weight="normal" font-style="normal" fill="#000" transform="translate(42.6 239.41) rotate(0.03) scale(1 1)" >0</text>
<text x="0" y="0" font-size="9.7" text-anchor="end" font-weight="normal" font-style="normal" fill="#000" transform="translate(42.6 275.12) rotate(0.03) scale(1 1)" >-5</text>
<text x="0" y="0" font-size="9.7" text-anchor="end" font-weight="normal" font-style="normal" fill="#000" transform="translate(42.6 310.83) rotate(0.03) scale(1 1)" >-10</text>
<text x="0" y="0" font-size="9.7" text-anchor="end" font-weight="normal" font-style="normal" fill="#000" transform="translate(42.6 346.54) rotate(0.03) scale(1 1)" >-15</text>
<text x="0" y="0" font-size="9.5" text-anchor="start" font-weight="normal" font-style="normal" fill="#000" transform="translate(209.2 364.4) rotate(0.03) scale(1 1)" >0.0</text>
<text x="0" y="0" font-size="9.5" text-anchor="start" font-weight="normal" font-style="normal" fill="#000" transform="translate(209.2 318.55) rotate(0.03) scale(1 1)" >0.2</text>
<text x="0" y="0" font-size="9.5" text-anchor="start" font-weight="normal" font-style="normal" fill="#000" transform="translate(209.2 272.7) rotate(0.03) scale(1 1)" >0.4</text>
<text x="0" y="0" font-size="9.5" text-anchor="start" font-weight="normal" font-style="normal" fill="#000" transform="translate(209.2 226.85) rotate(0.03) scale(1 1)" >0.6</text>
<text x="0" y="0" font-size="16.4" text-anchor="middle" font-weight="normal" font-style="normal" fill="#000" transform="translate(126.6 389.6) rotate(0.03) scale(1 1)" ><tspan font-style="italic">T</tspan> (K)</text>
<text x="0" y="0" font-size="17" text-anchor="middle" font-weight="normal" font-style="normal" fill="#000" transform="translate(21.8 279) rotate(-90) scale(0.955 1)" ><tspan font-style="italic">R</tspan><tspan font-size="10.5" dy="3.5" font-style="italic">H</tspan><tspan dy="-3.5" font-size="1">&#8203;</tspan> (10<tspan font-size="10.5" dy="-7">-9</tspan><tspan dy="7" font-size="1">&#8203;</tspan> m<tspan font-size="10.5" dy="-7">3</tspan><tspan dy="7" font-size="1">&#8203;</tspan>/C)</text>
<text x="0" y="0" font-size="14.5" text-anchor="middle" font-weight="normal" font-style="normal" fill="#000" transform="translate(200.8 321.4) rotate(-90) scale(0.9 1)" ><tspan font-style="italic">&#961;</tspan><tspan font-size="9.5" dy="2.5" font-style="italic">xx</tspan><tspan dy="-2.5" font-size="1">&#8203;</tspan> (m&#937;-cm)</text>
<text x="0" y="0" font-size="20" text-anchor="start" font-weight="bold" font-style="normal" fill="#000" transform="translate(3.5 194.8) rotate(0.03) scale(1 1)" >c</text>
<text x="0" y="0" font-size="10.8" text-anchor="end" font-weight="normal" font-style="normal" fill="#000" transform="translate(203.6 212.9) rotate(0.03) scale(1 1)" ><tspan font-style="italic">B</tspan> &lt;1 T</text>
<text x="0" y="0" font-size="9.4" text-anchor="start" font-weight="normal" font-style="normal" fill="#000" transform="translate(86 303.9) rotate(0.03) scale(1 1)" ><tspan font-style="italic">T</tspan><tspan font-size="6" dy="1.5" font-style="italic">s</tspan><tspan dy="-1.5" font-size="1">&#8203;</tspan> = 89 K</text>
<line x1="102.4" y1="309" x2="102.4" y2="326.5" stroke="#000" stroke-width="1.1" />
<path d="M102.4,331.8 L100.4,325.5 L104.4,325.5 Z" fill="#000"/>
<line x1="54" y1="258.4" x2="69" y2="258.4" stroke="#f00" stroke-width="1.0" />
<path d="M50.3,258.4 L56,256.6 L56,260.2 Z" fill="#f00"/>
<polyline points="267.6,246.42 270.23,246.31 272.85,246.11 275.48,245.87 278.11,245.59 280.73,245.27 283.36,244.92 285.99,244.55 288.61,244.15 291.24,243.72 293.86,243.28 296.49,242.81 299.12,242.33 301.74,241.82 304.37,241.3 307,240.76 309.62,240.21 312.25,239.64 314.88,239.05 317.5,238.45 320.13,237.83 322.76,237.2 325.38,236.56 328.01,235.91 330.63,235.24 333.26,234.55 335.89,233.86 338.51,233.15 341.14,232.43 343.77,231.7 346.39,230.96 349.02,230.21 351.65,229.45 354.27,228.67 356.9,227.89 359.53,227.09 362.15,226.29 364.78,225.47 367.41,224.64 370.03,223.81 372.66,222.96 375.28,222.11 377.91,221.24 380.54,220.37 383.16,219.49 385.79,218.59 388.42,217.69 391.04,216.78 393.67,215.87 396.3,214.94 398.92,214 401.55,213.06 404.18,212.11 406.8,211.14 409.43,210.17 412.05,209.2 414.68,208.21 417.31,207.22 419.93,206.22 422.56,205.21" fill="none" stroke="#00f" stroke-width="1.5" stroke-linejoin="round" stroke-linecap="butt" />
<polyline points="267.6,246.42 270.23,246.31 272.85,246.11 275.48,245.87 278.11,245.59 280.73,245.27 283.36,244.92 285.99,244.55 288.61,244.15 291.24,243.72 293.86,243.28 296.49,242.81 299.12,242.33 301.74,241.82 304.37,241.3 307,240.76 309.62,240.21 312.25,239.64 314.88,239.05 317.5,238.45 320.13,237.83 322.76,237.2 325.38,236.56 328.01,235.91 330.63,235.24 333.26,234.55 335.89,233.86 338.51,233.15 341.14,232.43 343.77,231.7 346.39,230.96 349.02,230.21 351.65,229.45 354.27,228.67 356.9,227.89 359.53,227.09 362.15,226.29 364.78,225.47 367.41,224.64 370.03,223.81 372.66,222.96 375.28,222.11 377.91,221.24 380.54,220.37 383.16,219.49 385.79,218.59 388.42,217.69 391.04,216.78 393.67,215.87 396.3,214.94 398.92,214 401.55,213.06 404.18,212.11 406.8,211.14 409.43,210.17 412.05,209.2 414.68,208.21 417.31,207.22 419.93,206.22 422.56,205.21" fill="none" stroke="#f00" stroke-width="1.4" stroke-linejoin="round" stroke-linecap="butt" stroke-dasharray="2 2"/>
<polyline points="267.6,281.3 270.23,287.88 272.85,294.12 275.48,300.01 278.11,305.55 280.73,310.73 283.36,315.52 285.99,319.93 288.61,323.94 291.24,327.53 293.86,330.73 296.49,333.55 299.12,336.05 301.74,338.28 304.37,340.25 307,342 309.62,343.53 312.25,344.85 314.88,345.97 317.5,346.9 320.13,347.67 322.76,348.32 325.38,348.85 328.01,349.31 330.63,349.68 333.26,349.97 335.89,350.16 338.51,350.27 341.14,350.3 343.77,350.25 346.39,350.12 349.02,349.93 351.65,349.69 354.27,349.38 356.9,349.01 359.53,348.59 362.15,348.11 364.78,347.57 367.41,346.99 370.03,346.35 372.66,345.66 375.28,344.92 377.91,344.15 380.54,343.34 383.16,342.51 385.79,341.65 388.42,340.77 391.04,339.87 393.67,338.93 396.3,337.97 398.92,336.97 401.55,335.95 404.18,334.9 406.8,333.84 409.43,332.75 412.05,331.62 414.68,330.46 417.31,329.25 419.93,327.98 422.56,326.64" fill="none" stroke="#00f" stroke-width="1.5" stroke-linejoin="round" stroke-linecap="butt" />
<polyline points="267.6,281.3 270.23,288.09 272.85,294.5 275.48,300.54 278.11,306.21 280.73,311.52 283.36,316.45 285.99,321 288.61,325.19 291.24,329.01 293.86,332.47 296.49,335.59 299.12,338.39 301.74,340.9 304.37,343.14 307,345.12 309.62,346.81 312.25,348.21 314.88,349.31 317.5,350.13 320.13,350.71 322.76,351.08 325.38,351.28 328.01,351.35 330.63,351.29 333.26,351.11 335.89,350.81 338.51,350.39 341.14,349.88 343.77,349.29 346.39,348.64 349.02,347.97 351.65,347.29 354.27,346.6 356.9,345.9 359.53,345.21 362.15,344.52 364.78,343.84 367.41,343.15 370.03,342.46 372.66,341.76 375.28,341.05 377.91,340.36 380.54,339.68 383.16,339.03 385.79,338.41 388.42,337.8 391.04,337.21 393.67,336.6 396.3,335.98 398.92,335.36 401.55,334.74 404.18,334.15 406.8,333.61 409.43,333.11 412.05,332.66 414.68,332.26 417.31,331.89 419.93,331.55 422.56,331.25" fill="none" stroke="#f00" stroke-width="1.4" stroke-linejoin="round" stroke-linecap="butt" stroke-dasharray="2 2"/>
<rect x="267.6" y="200.3" width="160.7" height="160.7" fill="none" stroke="#000" stroke-width="0.9"/>
<line x1="267.6" y1="281.3" x2="428.3" y2="281.3" stroke="#000" stroke-width="0.9" />
<line x1="267.6" y1="278.1" x2="267.6" y2="284.5" stroke="#000" stroke-width="0.9" />
<line x1="267.6" y1="361" x2="267.6" y2="357.8" stroke="#000" stroke-width="0.9" />
<line x1="279.08" y1="279.6" x2="279.08" y2="283" stroke="#000" stroke-width="0.9" />
<line x1="279.08" y1="361" x2="279.08" y2="359.3" stroke="#000" stroke-width="0.9" />
<line x1="290.56" y1="278.1" x2="290.56" y2="284.5" stroke="#000" stroke-width="0.9" />
<line x1="290.56" y1="361" x2="290.56" y2="357.8" stroke="#000" stroke-width="0.9" />
<line x1="302.04" y1="279.6" x2="302.04" y2="283" stroke="#000" stroke-width="0.9" />
<line x1="302.04" y1="361" x2="302.04" y2="359.3" stroke="#000" stroke-width="0.9" />
<line x1="313.51" y1="278.1" x2="313.51" y2="284.5" stroke="#000" stroke-width="0.9" />
<line x1="313.51" y1="361" x2="313.51" y2="357.8" stroke="#000" stroke-width="0.9" />
<line x1="324.99" y1="279.6" x2="324.99" y2="283" stroke="#000" stroke-width="0.9" />
<line x1="324.99" y1="361" x2="324.99" y2="359.3" stroke="#000" stroke-width="0.9" />
<line x1="336.47" y1="278.1" x2="336.47" y2="284.5" stroke="#000" stroke-width="0.9" />
<line x1="336.47" y1="361" x2="336.47" y2="357.8" stroke="#000" stroke-width="0.9" />
<line x1="347.95" y1="279.6" x2="347.95" y2="283" stroke="#000" stroke-width="0.9" />
<line x1="347.95" y1="361" x2="347.95" y2="359.3" stroke="#000" stroke-width="0.9" />
<line x1="359.43" y1="278.1" x2="359.43" y2="284.5" stroke="#000" stroke-width="0.9" />
<line x1="359.43" y1="361" x2="359.43" y2="357.8" stroke="#000" stroke-width="0.9" />
<line x1="370.91" y1="279.6" x2="370.91" y2="283" stroke="#000" stroke-width="0.9" />
<line x1="370.91" y1="361" x2="370.91" y2="359.3" stroke="#000" stroke-width="0.9" />
<line x1="382.39" y1="278.1" x2="382.39" y2="284.5" stroke="#000" stroke-width="0.9" />
<line x1="382.39" y1="361" x2="382.39" y2="357.8" stroke="#000" stroke-width="0.9" />
<line x1="393.86" y1="279.6" x2="393.86" y2="283" stroke="#000" stroke-width="0.9" />
<line x1="393.86" y1="361" x2="393.86" y2="359.3" stroke="#000" stroke-width="0.9" />
<line x1="405.34" y1="278.1" x2="405.34" y2="284.5" stroke="#000" stroke-width="0.9" />
<line x1="405.34" y1="361" x2="405.34" y2="357.8" stroke="#000" stroke-width="0.9" />
<line x1="416.82" y1="279.6" x2="416.82" y2="283" stroke="#000" stroke-width="0.9" />
<line x1="416.82" y1="361" x2="416.82" y2="359.3" stroke="#000" stroke-width="0.9" />
<line x1="428.3" y1="278.1" x2="428.3" y2="284.5" stroke="#000" stroke-width="0.9" />
<line x1="428.3" y1="361" x2="428.3" y2="357.8" stroke="#000" stroke-width="0.9" />
<line x1="267.6" y1="281.3" x2="270.8" y2="281.3" stroke="#000" stroke-width="0.9" />
<line x1="267.6" y1="268.38" x2="270.8" y2="268.38" stroke="#000" stroke-width="0.9" />
<line x1="267.6" y1="255.46" x2="270.8" y2="255.46" stroke="#000" stroke-width="0.9" />
<line x1="267.6" y1="242.54" x2="270.8" y2="242.54" stroke="#000" stroke-width="0.9" />
<line x1="267.6" y1="229.63" x2="270.8" y2="229.63" stroke="#000" stroke-width="0.9" />
<line x1="267.6" y1="216.71" x2="270.8" y2="216.71" stroke="#000" stroke-width="0.9" />
<line x1="267.6" y1="203.79" x2="270.8" y2="203.79" stroke="#000" stroke-width="0.9" />
<line x1="267.6" y1="274.84" x2="269.4" y2="274.84" stroke="#000" stroke-width="0.9" />
<line x1="267.6" y1="261.92" x2="269.4" y2="261.92" stroke="#000" stroke-width="0.9" />
<line x1="267.6" y1="249" x2="269.4" y2="249" stroke="#000" stroke-width="0.9" />
<line x1="267.6" y1="236.08" x2="269.4" y2="236.08" stroke="#000" stroke-width="0.9" />
<line x1="267.6" y1="223.17" x2="269.4" y2="223.17" stroke="#000" stroke-width="0.9" />
<line x1="267.6" y1="210.25" x2="269.4" y2="210.25" stroke="#000" stroke-width="0.9" />
<line x1="267.6" y1="352.14" x2="270.8" y2="352.14" stroke="#000" stroke-width="0.9" />
<line x1="267.6" y1="334.43" x2="270.8" y2="334.43" stroke="#000" stroke-width="0.9" />
<line x1="267.6" y1="316.72" x2="270.8" y2="316.72" stroke="#000" stroke-width="0.9" />
<line x1="267.6" y1="299.01" x2="270.8" y2="299.01" stroke="#000" stroke-width="0.9" />
<line x1="267.6" y1="290.16" x2="269.4" y2="290.16" stroke="#000" stroke-width="0.9" />
<line x1="267.6" y1="307.87" x2="269.4" y2="307.87" stroke="#000" stroke-width="0.9" />
<line x1="267.6" y1="325.58" x2="269.4" y2="325.58" stroke="#000" stroke-width="0.9" />
<line x1="267.6" y1="343.29" x2="269.4" y2="343.29" stroke="#000" stroke-width="0.9" />
<text x="0" y="0" font-size="9.7" text-anchor="middle" font-weight="normal" font-style="normal" fill="#000" transform="translate(267.6 372.4) rotate(0.03) scale(1 1)" >0</text>
<text x="0" y="0" font-size="9.7" text-anchor="middle" font-weight="normal" font-style="normal" fill="#000" transform="translate(290.56 372.4) rotate(0.03) scale(1 1)" >2</text>
<text x="0" y="0" font-size="9.7" text-anchor="middle" font-weight="normal" font-style="normal" fill="#000" transform="translate(313.51 372.4) rotate(0.03) scale(1 1)" >4</text>
<text x="0" y="0" font-size="9.7" text-anchor="middle" font-weight="normal" font-style="normal" fill="#000" transform="translate(336.47 372.4) rotate(0.03) scale(1 1)" >6</text>
<text x="0" y="0" font-size="9.7" text-anchor="middle" font-weight="normal" font-style="normal" fill="#000" transform="translate(359.43 372.4) rotate(0.03) scale(1 1)" >8</text>
<text x="0" y="0" font-size="9.7" text-anchor="middle" font-weight="normal" font-style="normal" fill="#000" transform="translate(382.39 372.4) rotate(0.03) scale(1 1)" >10</text>
<text x="0" y="0" font-size="9.7" text-anchor="middle" font-weight="normal" font-style="normal" fill="#000" transform="translate(405.34 372.4) rotate(0.03) scale(1 1)" >12</text>
<text x="0" y="0" font-size="9.7" text-anchor="middle" font-weight="normal" font-style="normal" fill="#000" transform="translate(428.3 372.4) rotate(0.03) scale(1 1)" >14</text>
<text x="0" y="0" font-size="9.7" text-anchor="end" font-weight="normal" font-style="normal" fill="#000" transform="translate(264.4 284.7) rotate(0.03) scale(1 1)" >0</text>
<text x="0" y="0" font-size="9.7" text-anchor="end" font-weight="normal" font-style="normal" fill="#000" transform="translate(264.4 271.78) rotate(0.03) scale(1 1)" >10</text>
<text x="0" y="0" font-size="9.7" text-anchor="end" font-weight="normal" font-style="normal" fill="#000" transform="translate(264.4 258.86) rotate(0.03) scale(1 1)" >20</text>
<text x="0" y="0" font-size="9.7" text-anchor="end" font-weight="normal" font-style="normal" fill="#000" transform="translate(264.4 245.94) rotate(0.03) scale(1 1)" >30</text>
<text x="0" y="0" font-size="9.7" text-anchor="end" font-weight="normal" font-style="normal" fill="#000" transform="translate(264.4 233.03) rotate(0.03) scale(1 1)" >40</text>
<text x="0" y="0" font-size="9.7" text-anchor="end" font-weight="normal" font-style="normal" fill="#000" transform="translate(264.4 220.11) rotate(0.03) scale(1 1)" >50</text>
<text x="0" y="0" font-size="9.7" text-anchor="end" font-weight="normal" font-style="normal" fill="#000" transform="translate(264.4 207.19) rotate(0.03) scale(1 1)" >60</text>
<text x="0" y="0" font-size="9.7" text-anchor="end" font-weight="normal" font-style="normal" fill="#000" transform="translate(264.4 355.54) rotate(0.03) scale(1 1)" >-4</text>
<text x="0" y="0" font-size="9.7" text-anchor="end" font-weight="normal" font-style="normal" fill="#000" transform="translate(264.4 337.83) rotate(0.03) scale(1 1)" >-3</text>
<text x="0" y="0" font-size="9.7" text-anchor="end" font-weight="normal" font-style="normal" fill="#000" transform="translate(264.4 320.12) rotate(0.03) scale(1 1)" >-2</text>
<text x="0" y="0" font-size="9.7" text-anchor="end" font-weight="normal" font-style="normal" fill="#000" transform="translate(264.4 302.41) rotate(0.03) scale(1 1)" >-1</text>
<text x="0" y="0" font-size="16.4" text-anchor="middle" font-weight="normal" font-style="normal" fill="#000" transform="translate(348.6 389.5) rotate(0.03) scale(1 1)" ><tspan font-style="italic">B</tspan> (T)</text>
<text x="0" y="0" font-size="13.9" text-anchor="middle" font-weight="normal" font-style="normal" fill="#000" transform="translate(242.7 241) rotate(-90) scale(1 1)" ><tspan font-style="italic">&#961;</tspan><tspan font-size="9" dy="2.5" font-style="italic">xx</tspan><tspan dy="-2.5" font-size="1">&#8203;</tspan> (&#956;&#937;&#8211;cm)</text>
<text x="0" y="0" font-size="13.9" text-anchor="middle" font-weight="normal" font-style="normal" fill="#000" transform="translate(242.7 321) rotate(-90) scale(1 1)" ><tspan font-style="italic">&#961;</tspan><tspan font-size="9" dy="2.5" font-style="italic">xy</tspan><tspan dy="-2.5" font-size="1">&#8203;</tspan> (&#956;&#937;&#8211;cm)</text>
<text x="0" y="0" font-size="20" text-anchor="start" font-weight="bold" font-style="normal" fill="#000" transform="translate(221.6 192) rotate(0.03) scale(1 1)" >d</text>
<text x="0" y="0" font-size="11.2" text-anchor="start" font-weight="normal" font-style="normal" fill="#000" transform="translate(279 213) rotate(0.03) scale(1 1)" ><tspan font-style="italic">T</tspan> = 20 K</text>
<rect x="45.4" y="395.3" width="161" height="160.7" fill="none" stroke="#000" stroke-width="0.9"/>
<line x1="45.4" y1="556" x2="45.4" y2="552.8" stroke="#000" stroke-width="0.9" />
<line x1="45.4" y1="395.3" x2="45.4" y2="398.5" stroke="#000" stroke-width="0.9" />
<line x1="71.34" y1="556" x2="71.34" y2="552.8" stroke="#000" stroke-width="0.9" />
<line x1="71.34" y1="395.3" x2="71.34" y2="398.5" stroke="#000" stroke-width="0.9" />
<line x1="97.29" y1="556" x2="97.29" y2="552.8" stroke="#000" stroke-width="0.9" />
<line x1="97.29" y1="395.3" x2="97.29" y2="398.5" stroke="#000" stroke-width="0.9" />
<line x1="123.23" y1="556" x2="123.23" y2="552.8" stroke="#000" stroke-width="0.9" />
<line x1="123.23" y1="395.3" x2="123.23" y2="398.5" stroke="#000" stroke-width="0.9" />
<line x1="149.17" y1="556" x2="149.17" y2="552.8" stroke="#000" stroke-width="0.9" />
<line x1="149.17" y1="395.3" x2="149.17" y2="398.5" stroke="#000" stroke-width="0.9" />
<line x1="175.11" y1="556" x2="175.11" y2="552.8" stroke="#000" stroke-width="0.9" />
<line x1="175.11" y1="395.3" x2="175.11" y2="398.5" stroke="#000" stroke-width="0.9" />
<line x1="201.06" y1="556" x2="201.06" y2="552.8" stroke="#000" stroke-width="0.9" />
<line x1="201.06" y1="395.3" x2="201.06" y2="398.5" stroke="#000" stroke-width="0.9" />
<line x1="58.37" y1="556" x2="58.37" y2="554.2" stroke="#000" stroke-width="0.9" />
<line x1="58.37" y1="395.3" x2="58.37" y2="397.1" stroke="#000" stroke-width="0.9" />
<line x1="84.31" y1="556" x2="84.31" y2="554.2" stroke="#000" stroke-width="0.9" />
<line x1="84.31" y1="395.3" x2="84.31" y2="397.1" stroke="#000" stroke-width="0.9" />
<line x1="110.26" y1="556" x2="110.26" y2="554.2" stroke="#000" stroke-width="0.9" />
<line x1="110.26" y1="395.3" x2="110.26" y2="397.1" stroke="#000" stroke-width="0.9" />
<line x1="136.2" y1="556" x2="136.2" y2="554.2" stroke="#000" stroke-width="0.9" />
<line x1="136.2" y1="395.3" x2="136.2" y2="397.1" stroke="#000" stroke-width="0.9" />
<line x1="162.14" y1="556" x2="162.14" y2="554.2" stroke="#000" stroke-width="0.9" />
<line x1="162.14" y1="395.3" x2="162.14" y2="397.1" stroke="#000" stroke-width="0.9" />
<line x1="188.08" y1="556" x2="188.08" y2="554.2" stroke="#000" stroke-width="0.9" />
<line x1="188.08" y1="395.3" x2="188.08" y2="397.1" stroke="#000" stroke-width="0.9" />
<line x1="45.4" y1="556" x2="48.6" y2="556" stroke="#000" stroke-width="0.9" />
<line x1="206.4" y1="556" x2="203.2" y2="556" stroke="#000" stroke-width="0.9" />
<line x1="45.4" y1="515.83" x2="48.6" y2="515.83" stroke="#000" stroke-width="0.9" />
<line x1="206.4" y1="515.83" x2="203.2" y2="515.83" stroke="#000" stroke-width="0.9" />
<line x1="45.4" y1="475.65" x2="48.6" y2="475.65" stroke="#000" stroke-width="0.9" />
<line x1="206.4" y1="475.65" x2="203.2" y2="475.65" stroke="#000" stroke-width="0.9" />
<line x1="45.4" y1="435.48" x2="48.6" y2="435.48" stroke="#000" stroke-width="0.9" />
<line x1="206.4" y1="435.48" x2="203.2" y2="435.48" stroke="#000" stroke-width="0.9" />
<line x1="45.4" y1="395.3" x2="48.6" y2="395.3" stroke="#000" stroke-width="0.9" />
<line x1="206.4" y1="395.3" x2="203.2" y2="395.3" stroke="#000" stroke-width="0.9" />
<line x1="45.4" y1="535.91" x2="47.2" y2="535.91" stroke="#000" stroke-width="0.9" />
<line x1="206.4" y1="535.91" x2="204.6" y2="535.91" stroke="#000" stroke-width="0.9" />
<line x1="45.4" y1="495.74" x2="47.2" y2="495.74" stroke="#000" stroke-width="0.9" />
<line x1="206.4" y1="495.74" x2="204.6" y2="495.74" stroke="#000" stroke-width="0.9" />
<line x1="45.4" y1="455.56" x2="47.2" y2="455.56" stroke="#000" stroke-width="0.9" />
<line x1="206.4" y1="455.56" x2="204.6" y2="455.56" stroke="#000" stroke-width="0.9" />
<line x1="45.4" y1="415.39" x2="47.2" y2="415.39" stroke="#000" stroke-width="0.9" />
<line x1="206.4" y1="415.39" x2="204.6" y2="415.39" stroke="#000" stroke-width="0.9" />
<path d="M87.95,451.56 L84.48,453.56 L84.48,457.56 L87.95,459.56 L91.41,457.56 L91.41,453.56 Z" fill="#800080"/>
<path d="M92.1,424.24 L88.63,426.24 L88.63,430.24 L92.1,432.24 L95.56,430.24 L95.56,426.24 Z" fill="#800080"/>
<path d="M102.47,421.43 L99.01,423.43 L99.01,427.43 L102.47,429.43 L105.94,427.43 L105.94,423.43 Z" fill="#800080"/>
<path d="M112.85,419.82 L109.39,421.82 L109.39,425.82 L112.85,427.82 L116.31,425.82 L116.31,421.82 Z" fill="#800080"/>
<path d="M128.42,412.99 L124.95,414.99 L124.95,418.99 L128.42,420.99 L131.88,418.99 L131.88,414.99 Z" fill="#800080"/>
<path d="M143.98,419.42 L140.52,421.42 L140.52,425.42 L143.98,427.42 L147.45,425.42 L147.45,421.42 Z" fill="#800080"/>
<path d="M159.55,425.45 L156.08,427.45 L156.08,431.45 L159.55,433.45 L163.01,431.45 L163.01,427.45 Z" fill="#800080"/>
<path d="M180.3,427.46 L176.84,429.46 L176.84,433.46 L180.3,435.46 L183.77,433.46 L183.77,429.46 Z" fill="#800080"/>
<path d="M201.06,429.47 L197.59,431.47 L197.59,435.47 L201.06,437.47 L204.52,435.47 L204.52,431.47 Z" fill="#800080"/>
<path d="M50.59,525.28 L53.49,530.88 L47.69,530.88 Z" fill="#0f0"/>
<path d="M55.78,543.02 L59.73,550.02 L51.83,550.02 Z" fill="#0f0"/>
<path d="M60.97,545.99 L64.92,552.99 L57.02,552.99 Z" fill="#0f0"/>
<path d="M68.75,548.48 L72.7,555.48 L64.8,555.48 Z" fill="#0f0"/>
<path d="M76.53,550.61 L80.48,557.61 L72.58,557.61 Z" fill="#0f0"/>
<path d="M84.31,551.5 L88.26,558.5 L80.36,558.5 Z" fill="#0f0"/>
<path d="M50.59,445.03 L53.09,447.53 L50.59,450.03 L48.09,447.53 Z" fill="#fff" stroke="#00f" stroke-width="1.1"/>
<path d="M55.78,493.54 L59.18,496.94 L55.78,500.34 L52.38,496.94 Z" fill="#fff" stroke="#00f" stroke-width="1.4"/>
<path d="M60.97,496.76 L64.37,500.16 L60.97,503.56 L57.57,500.16 Z" fill="#fff" stroke="#00f" stroke-width="1.4"/>
<path d="M68.75,495.15 L72.15,498.55 L68.75,501.95 L65.35,498.55 Z" fill="#fff" stroke="#00f" stroke-width="1.4"/>
<path d="M76.53,488.72 L79.93,492.12 L76.53,495.52 L73.13,492.12 Z" fill="#fff" stroke="#00f" stroke-width="1.4"/>
<path d="M84.31,470.64 L87.71,474.04 L84.31,477.44 L80.91,474.04 Z" fill="#fff" stroke="#00f" stroke-width="1.4"/>
<circle cx="50.59" cy="474.44" r="2.4" fill="#f00" stroke="none" stroke-width="0"/>
<circle cx="55.78" cy="506.18" r="3.4" fill="#f00" stroke="none" stroke-width="0"/>
<circle cx="60.97" cy="506.18" r="3.4" fill="#f00" stroke="none" stroke-width="0"/>
<circle cx="68.75" cy="502.57" r="3.4" fill="#f00" stroke="none" stroke-width="0"/>
<circle cx="76.53" cy="493.33" r="3.4" fill="#f00" stroke="none" stroke-width="0"/>
<circle cx="84.31" cy="474.44" r="3.4" fill="#f00" stroke="none" stroke-width="0"/>
<path d="M45.2,406 L43.8,409.37 L40.16,409.66 L42.93,412.04 L42.08,415.59 L45.2,413.69 L48.32,415.59 L47.47,412.04 L50.24,409.66 L46.6,409.37 Z" fill="#000"/>
<text x="0" y="0" font-size="13.3" text-anchor="start" font-weight="normal" font-style="normal" fill="#000" transform="translate(53 415.2) rotate(0.03) scale(1 1)" ><tspan font-style="italic">n</tspan><tspan font-size="8.5" dy="2.5" font-style="italic">h</tspan><tspan dy="-2.5" font-size="1">&#8203;</tspan>- QOs</text>
<text x="0" y="0" font-size="9.5" text-anchor="start" font-weight="normal" font-style="normal" fill="#000" transform="translate(50.5 462.8) rotate(0.03) scale(1 1)" >S4</text>
<text x="0" y="0" font-size="11" text-anchor="start" font-weight="normal" font-style="normal" fill="#000" transform="translate(120.8 433.3) rotate(0.03) scale(1 1)" >S3</text>
<text x="0" y="0" font-size="9.7" text-anchor="middle" font-weight="normal" font-style="normal" fill="#000" transform="translate(45.4 566.9) rotate(0.03) scale(1 1)" >0</text>
<text x="0" y="0" font-size="9.7" text-anchor="middle" font-weight="normal" font-style="normal" fill="#000" transform="translate(71.34 566.9) rotate(0.03) scale(1 1)" >50</text>
<text x="0" y="0" font-size="9.7" text-anchor="middle" font-weight="normal" font-style="normal" fill="#000" transform="translate(97.29 566.9) rotate(0.03) scale(1 1)" >100</text>
<text x="0" y="0" font-size="9.7" text-anchor="middle" font-weight="normal" font-style="normal" fill="#000" transform="translate(123.23 566.9) rotate(0.03) scale(1 1)" >150</text>
<text x="0" y="0" font-size="9.7" text-anchor="middle" font-weight="normal" font-style="normal" fill="#000" transform="translate(149.17 566.9) rotate(0.03) scale(1 1)" >200</text>
<text x="0" y="0" font-size="9.7" text-anchor="middle" font-weight="normal" font-style="normal" fill="#000" transform="translate(175.11 566.9) rotate(0.03) scale(1 1)" >250</text>
<text x="0" y="0" font-size="9.7" text-anchor="middle" font-weight="normal" font-style="normal" fill="#000" transform="translate(201.06 566.9) rotate(0.03) scale(1 1)" >300</text>
<text x="0" y="0" font-size="9.7" text-anchor="end" font-weight="normal" font-style="normal" fill="#000" transform="translate(42.6 559.4) rotate(0.03) scale(1 1)" >0.0</text>
<text x="0" y="0" font-size="9.7" text-anchor="end" font-weight="normal" font-style="normal" fill="#000" transform="translate(42.6 519.23) rotate(0.03) scale(1 1)" >1.0</text>
<text x="0" y="0" font-size="9.7" text-anchor="end" font-weight="normal" font-style="normal" fill="#000" transform="translate(42.6 479.05) rotate(0.03) scale(1 1)" >2.0</text>
<text x="0" y="0" font-size="9.7" text-anchor="end" font-weight="normal" font-style="normal" fill="#000" transform="translate(42.6 438.88) rotate(0.03) scale(1 1)" >3.0</text>
<text x="0" y="0" font-size="9.7" text-anchor="end" font-weight="normal" font-style="normal" fill="#000" transform="translate(42.6 398.7) rotate(0.03) scale(1 1)" >4.0</text>
<text x="0" y="0" font-size="16.4" text-anchor="middle" font-weight="normal" font-style="normal" fill="#000" transform="translate(126.6 583.3) rotate(0.03) scale(1 1)" ><tspan font-style="italic">T</tspan> (K)</text>
<text x="0" y="0" font-size="17" text-anchor="middle" font-weight="normal" font-style="normal" fill="#000" transform="translate(21.4 470.2) rotate(-90) scale(0.93 1)" ><tspan font-style="italic">n</tspan> (10<tspan font-size="10.5" dy="-7">20</tspan><tspan dy="7" font-size="1">&#8203;</tspan> cm<tspan font-size="10.5" dy="-7">-3</tspan><tspan dy="7" font-size="1">&#8203;</tspan> )</text>
<text x="0" y="0" font-size="20" text-anchor="start" font-weight="bold" font-style="normal" fill="#000" transform="translate(4.8 398.3) rotate(0.03) scale(1 1)" >e</text>
<path d="M133.1,502.3 L136.3,505.5 L133.1,508.7 L129.9,505.5 Z" fill="#fff" stroke="#00f" stroke-width="1.4"/>
<circle cx="133.1" cy="518.9" r="3.2" fill="#f00" stroke="none" stroke-width="0"/>
<path d="M133.1,527.35 L137.5,535.05 L128.7,535.05 Z" fill="#0f0"/>
<path d="M133.1,541.4 L129.64,543.4 L129.64,547.4 L133.1,549.4 L136.56,547.4 L136.56,543.4 Z" fill="#800080"/>
<text x="0" y="0" font-size="10.8" text-anchor="start" font-weight="normal" font-style="normal" fill="#000" transform="translate(148.7 509.2) rotate(0.03) scale(1 1)" >hole</text>
<text x="0" y="0" font-size="10.8" text-anchor="start" font-weight="normal" font-style="normal" fill="#000" transform="translate(148.7 522.6) rotate(0.03) scale(1 1)" >electron 1</text>
<text x="0" y="0" font-size="10.8" text-anchor="start" font-weight="normal" font-style="normal" fill="#000" transform="translate(148.7 535.2) rotate(0.03) scale(1 1)" >electron 2</text>
<text x="0" y="0" font-size="10.8" text-anchor="start" font-weight="normal" font-style="normal" fill="#000" transform="translate(148.7 549.1) rotate(0.03) scale(1 1)" >two band</text>
<rect x="267.6" y="395.3" width="160.7" height="160.7" fill="none" stroke="#000" stroke-width="0.9"/>
<line x1="267.6" y1="556" x2="267.6" y2="552.8" stroke="#000" stroke-width="0.9" />
<line x1="267.6" y1="395.3" x2="267.6" y2="398.5" stroke="#000" stroke-width="0.9" />
<line x1="293.54" y1="556" x2="293.54" y2="552.8" stroke="#000" stroke-width="0.9" />
<line x1="293.54" y1="395.3" x2="293.54" y2="398.5" stroke="#000" stroke-width="0.9" />
<line x1="319.47" y1="556" x2="319.47" y2="552.8" stroke="#000" stroke-width="0.9" />
<line x1="319.47" y1="395.3" x2="319.47" y2="398.5" stroke="#000" stroke-width="0.9" />
<line x1="345.41" y1="556" x2="345.41" y2="552.8" stroke="#000" stroke-width="0.9" />
<line x1="345.41" y1="395.3" x2="345.41" y2="398.5" stroke="#000" stroke-width="0.9" />
<line x1="371.34" y1="556" x2="371.34" y2="552.8" stroke="#000" stroke-width="0.9" />
<line x1="371.34" y1="395.3" x2="371.34" y2="398.5" stroke="#000" stroke-width="0.9" />
<line x1="397.28" y1="556" x2="397.28" y2="552.8" stroke="#000" stroke-width="0.9" />
<line x1="397.28" y1="395.3" x2="397.28" y2="398.5" stroke="#000" stroke-width="0.9" />
<line x1="423.22" y1="556" x2="423.22" y2="552.8" stroke="#000" stroke-width="0.9" />
<line x1="423.22" y1="395.3" x2="423.22" y2="398.5" stroke="#000" stroke-width="0.9" />
<line x1="280.57" y1="556" x2="280.57" y2="554.2" stroke="#000" stroke-width="0.9" />
<line x1="280.57" y1="395.3" x2="280.57" y2="397.1" stroke="#000" stroke-width="0.9" />
<line x1="306.5" y1="556" x2="306.5" y2="554.2" stroke="#000" stroke-width="0.9" />
<line x1="306.5" y1="395.3" x2="306.5" y2="397.1" stroke="#000" stroke-width="0.9" />
<line x1="332.44" y1="556" x2="332.44" y2="554.2" stroke="#000" stroke-width="0.9" />
<line x1="332.44" y1="395.3" x2="332.44" y2="397.1" stroke="#000" stroke-width="0.9" />
<line x1="358.38" y1="556" x2="358.38" y2="554.2" stroke="#000" stroke-width="0.9" />
<line x1="358.38" y1="395.3" x2="358.38" y2="397.1" stroke="#000" stroke-width="0.9" />
<line x1="384.31" y1="556" x2="384.31" y2="554.2" stroke="#000" stroke-width="0.9" />
<line x1="384.31" y1="395.3" x2="384.31" y2="397.1" stroke="#000" stroke-width="0.9" />
<line x1="410.25" y1="556" x2="410.25" y2="554.2" stroke="#000" stroke-width="0.9" />
<line x1="410.25" y1="395.3" x2="410.25" y2="397.1" stroke="#000" stroke-width="0.9" />
<line x1="267.6" y1="556" x2="271" y2="556" stroke="#000" stroke-width="0.9" />
<line x1="428.3" y1="556" x2="424.9" y2="556" stroke="#000" stroke-width="0.9" />
<line x1="267.6" y1="491.15" x2="271" y2="491.15" stroke="#000" stroke-width="0.9" />
<line x1="428.3" y1="491.15" x2="424.9" y2="491.15" stroke="#000" stroke-width="0.9" />
<line x1="267.6" y1="426.3" x2="271" y2="426.3" stroke="#000" stroke-width="0.9" />
<line x1="428.3" y1="426.3" x2="424.9" y2="426.3" stroke="#000" stroke-width="0.9" />
<line x1="267.6" y1="536.48" x2="269.4" y2="536.48" stroke="#000" stroke-width="0.9" />
<line x1="428.3" y1="536.48" x2="426.5" y2="536.48" stroke="#000" stroke-width="0.9" />
<line x1="267.6" y1="525.06" x2="269.4" y2="525.06" stroke="#000" stroke-width="0.9" />
<line x1="428.3" y1="525.06" x2="426.5" y2="525.06" stroke="#000" stroke-width="0.9" />
<line x1="267.6" y1="516.96" x2="269.4" y2="516.96" stroke="#000" stroke-width="0.9" />
<line x1="428.3" y1="516.96" x2="426.5" y2="516.96" stroke="#000" stroke-width="0.9" />
<line x1="267.6" y1="510.67" x2="269.4" y2="510.67" stroke="#000" stroke-width="0.9" />
<line x1="428.3" y1="510.67" x2="426.5" y2="510.67" stroke="#000" stroke-width="0.9" />
<line x1="267.6" y1="505.54" x2="269.4" y2="505.54" stroke="#000" stroke-width="0.9" />
<line x1="428.3" y1="505.54" x2="426.5" y2="505.54" stroke="#000" stroke-width="0.9" />
<line x1="267.6" y1="501.19" x2="269.4" y2="501.19" stroke="#000" stroke-width="0.9" />
<line x1="428.3" y1="501.19" x2="426.5" y2="501.19" stroke="#000" stroke-width="0.9" />
<line x1="267.6" y1="497.43" x2="269.4" y2="497.43" stroke="#000" stroke-width="0.9" />
<line x1="428.3" y1="497.43" x2="426.5" y2="497.43" stroke="#000" stroke-width="0.9" />
<line x1="267.6" y1="494.12" x2="269.4" y2="494.12" stroke="#000" stroke-width="0.9" />
<line x1="428.3" y1="494.12" x2="426.5" y2="494.12" stroke="#000" stroke-width="0.9" />
<line x1="267.6" y1="471.63" x2="269.4" y2="471.63" stroke="#000" stroke-width="0.9" />
<line x1="428.3" y1="471.63" x2="426.5" y2="471.63" stroke="#000" stroke-width="0.9" />
<line x1="267.6" y1="460.21" x2="269.4" y2="460.21" stroke="#000" stroke-width="0.9" />
<line x1="428.3" y1="460.21" x2="426.5" y2="460.21" stroke="#000" stroke-width="0.9" />
<line x1="267.6" y1="452.1" x2="269.4" y2="452.1" stroke="#000" stroke-width="0.9" />
<line x1="428.3" y1="452.1" x2="426.5" y2="452.1" stroke="#000" stroke-width="0.9" />
<line x1="267.6" y1="445.82" x2="269.4" y2="445.82" stroke="#000" stroke-width="0.9" />
<line x1="428.3" y1="445.82" x2="426.5" y2="445.82" stroke="#000" stroke-width="0.9" />
<line x1="267.6" y1="440.69" x2="269.4" y2="440.69" stroke="#000" stroke-width="0.9" />
<line x1="428.3" y1="440.69" x2="426.5" y2="440.69" stroke="#000" stroke-width="0.9" />
<line x1="267.6" y1="436.34" x2="269.4" y2="436.34" stroke="#000" stroke-width="0.9" />
<line x1="428.3" y1="436.34" x2="426.5" y2="436.34" stroke="#000" stroke-width="0.9" />
<line x1="267.6" y1="432.58" x2="269.4" y2="432.58" stroke="#000" stroke-width="0.9" />
<line x1="428.3" y1="432.58" x2="426.5" y2="432.58" stroke="#000" stroke-width="0.9" />
<line x1="267.6" y1="429.27" x2="269.4" y2="429.27" stroke="#000" stroke-width="0.9" />
<line x1="428.3" y1="429.27" x2="426.5" y2="429.27" stroke="#000" stroke-width="0.9" />
<line x1="267.6" y1="406.78" x2="269.4" y2="406.78" stroke="#000" stroke-width="0.9" />
<line x1="428.3" y1="406.78" x2="426.5" y2="406.78" stroke="#000" stroke-width="0.9" />
<path d="M277.97,434.76 L281.17,437.96 L277.97,441.16 L274.77,437.96 Z" fill="#fff" stroke="#00f" stroke-width="1.5"/>
<circle cx="277.97" cy="440.17" r="3.2" fill="#f00" stroke="none" stroke-width="0"/>
<path d="M283.16,441.57 L286.36,444.77 L283.16,447.97 L279.96,444.77 Z" fill="#fff" stroke="#00f" stroke-width="1.5"/>
<circle cx="283.16" cy="446.97" r="3.2" fill="#f00" stroke="none" stroke-width="0"/>
<path d="M290.94,451.72 L294.14,454.92 L290.94,458.12 L287.74,454.92 Z" fill="#fff" stroke="#00f" stroke-width="1.5"/>
<circle cx="290.94" cy="457.61" r="3.2" fill="#f00" stroke="none" stroke-width="0"/>
<path d="M298.72,462.03 L301.92,465.23 L298.72,468.43 L295.52,465.23 Z" fill="#fff" stroke="#00f" stroke-width="1.5"/>
<circle cx="298.72" cy="468.81" r="3.2" fill="#f00" stroke="none" stroke-width="0"/>
<path d="M306.5,475.61 L309.7,478.81 L306.5,482.01 L303.3,478.81 Z" fill="#fff" stroke="#00f" stroke-width="1.5"/>
<circle cx="306.5" cy="482.49" r="3.2" fill="#f00" stroke="none" stroke-width="0"/>
<path d="M310.14,483.77 L313.34,486.97 L310.14,490.17 L306.94,486.97 Z" fill="#fff" stroke="#00f" stroke-width="1.5"/>
<circle cx="310.14" cy="490.59" r="3.2" fill="#f00" stroke="none" stroke-width="0"/>
<path d="M314.28,491.87 L317.48,495.07 L314.28,498.27 L311.08,495.07 Z" fill="#fff" stroke="#00f" stroke-width="1.5"/>
<circle cx="314.28" cy="499.25" r="3.2" fill="#f00" stroke="none" stroke-width="0"/>
<circle cx="324.66" cy="505.3" r="3.2" fill="#f00" stroke="none" stroke-width="0"/>
<path d="M324.66,502.1 L327.86,505.3 L324.66,508.5 L321.46,505.3 Z" fill="none" stroke="#00f" stroke-width="1.6"/>
<circle cx="335.03" cy="511.82" r="3.2" fill="#f00" stroke="none" stroke-width="0"/>
<path d="M335.03,508.62 L338.23,511.82 L335.03,515.02 L331.83,511.82 Z" fill="none" stroke="#00f" stroke-width="1.6"/>
<circle cx="350.6" cy="519.53" r="3.2" fill="#f00" stroke="none" stroke-width="0"/>
<path d="M350.6,516.72 L353.8,519.92 L350.6,523.12 L347.4,519.92 Z" fill="none" stroke="#00f" stroke-width="1.6"/>
<circle cx="366.16" cy="522.98" r="3.2" fill="#f00" stroke="none" stroke-width="0"/>
<path d="M366.16,519.78 L369.36,522.98 L366.16,526.18 L362.96,522.98 Z" fill="none" stroke="#00f" stroke-width="1.6"/>
<circle cx="381.72" cy="525.15" r="3.2" fill="#f00" stroke="none" stroke-width="0"/>
<path d="M381.72,521.95 L384.92,525.15 L381.72,528.35 L378.52,525.15 Z" fill="none" stroke="#00f" stroke-width="1.6"/>
<circle cx="402.47" cy="529.31" r="3.2" fill="#f00" stroke="none" stroke-width="0"/>
<path d="M402.47,524.72 L405.67,527.92 L402.47,531.12 L399.27,527.92 Z" fill="none" stroke="#00f" stroke-width="1.6"/>
<circle cx="423.22" cy="530.99" r="3.2" fill="#f00" stroke="none" stroke-width="0"/>
<path d="M423.22,526.11 L426.42,529.31 L423.22,532.51 L420.02,529.31 Z" fill="none" stroke="#00f" stroke-width="1.6"/>
<path d="M277.97,394.95 L282.37,402.65 L273.57,402.65 Z" fill="#0f0"/>
<path d="M283.16,401.89 L287.56,409.59 L278.76,409.59 Z" fill="#0f0"/>
<path d="M290.94,413.79 L295.34,421.49 L286.54,421.49 Z" fill="#0f0"/>
<path d="M298.72,422.45 L303.12,430.15 L294.32,430.15 Z" fill="#0f0"/>
<path d="M306.5,435.46 L310.9,443.16 L302.1,443.16 Z" fill="#0f0"/>
<text x="0" y="0" font-size="9.7" text-anchor="middle" font-weight="normal" font-style="normal" fill="#000" transform="translate(267.6 566.9) rotate(0.03) scale(1 1)" >0</text>
<text x="0" y="0" font-size="9.7" text-anchor="middle" font-weight="normal" font-style="normal" fill="#000" transform="translate(293.54 566.9) rotate(0.03) scale(1 1)" >50</text>
<text x="0" y="0" font-size="9.7" text-anchor="middle" font-weight="normal" font-style="normal" fill="#000" transform="translate(319.47 566.9) rotate(0.03) scale(1 1)" >100</text>
<text x="0" y="0" font-size="9.7" text-anchor="middle" font-weight="normal" font-style="normal" fill="#000" transform="translate(345.41 566.9) rotate(0.03) scale(1 1)" >150</text>
<text x="0" y="0" font-size="9.7" text-anchor="middle" font-weight="normal" font-style="normal" fill="#000" transform="translate(371.34 566.9) rotate(0.03) scale(1 1)" >200</text>
<text x="0" y="0" font-size="9.7" text-anchor="middle" font-weight="normal" font-style="normal" fill="#000" transform="translate(397.28 566.9) rotate(0.03) scale(1 1)" >250</text>
<text x="0" y="0" font-size="9.7" text-anchor="middle" font-weight="normal" font-style="normal" fill="#000" transform="translate(423.22 566.9) rotate(0.03) scale(1 1)" >300</text>
<text x="0" y="0" font-size="9.7" text-anchor="end" font-weight="normal" font-style="normal" fill="#000" transform="translate(266 558.6) rotate(0.03) scale(1 1)" >10</text>
<text x="0" y="0" font-size="9.7" text-anchor="end" font-weight="normal" font-style="normal" fill="#000" transform="translate(266 494.55) rotate(0.03) scale(1 1)" >100</text>
<text x="0" y="0" font-size="9.7" text-anchor="end" font-weight="normal" font-style="normal" fill="#000" transform="translate(266 429.7) rotate(0.03) scale(1 1)" >1000</text>
<text x="0" y="0" font-size="16.4" text-anchor="middle" font-weight="normal" font-style="normal" fill="#000" transform="translate(348 583.6) rotate(0.03) scale(1 1)" ><tspan font-style="italic">T</tspan><tspan dx="2.6">(K)</tspan></text>
<text x="0" y="0" font-size="17" text-anchor="middle" font-weight="normal" font-style="normal" fill="#000" transform="translate(238.8 478.1) rotate(-90) scale(0.916 1)" ><tspan font-style="italic">&#956;</tspan> (10 cm<tspan font-size="10.5" dy="-7">2</tspan><tspan dy="7" font-size="1">&#8203;</tspan> V<tspan font-size="10.5" dy="-7">-1</tspan><tspan dy="7" font-size="1">&#8203;</tspan> s<tspan font-size="10.5" dy="-7">-1</tspan><tspan dy="7" font-size="1">&#8203;</tspan>)</text>
<text x="0" y="0" font-size="20" text-anchor="start" font-weight="bold" font-style="normal" fill="#000" transform="translate(228.5 398) rotate(0.03) scale(1 1)" >f</text>
<clipPath id="ci"><rect x="343.8" y="399.3" width="80.2" height="80.3"/></clipPath>
<g clip-path="url(#ci)">
<polyline points="343.8,478.71 424,464.4" fill="none" stroke="#0f0" stroke-width="1.0" stroke-linejoin="round" stroke-linecap="butt" />
<polyline points="343.8,462.97 424,406.1" fill="none" stroke="#00f" stroke-width="1.0" stroke-linejoin="round" stroke-linecap="butt" />
<polyline points="343.8,462.07 424,397.69" fill="none" stroke="#f00" stroke-width="1.0" stroke-linejoin="round" stroke-linecap="butt" />
</g>
<path d="M351.82,473.12 L356.02,480.72 L347.62,480.72 Z" fill="#0f0"/>
<path d="M361.85,470.79 L366.05,478.39 L357.65,478.39 Z" fill="#0f0"/>
<path d="M384.4,467.39 L388.6,474.99 L380.2,474.99 Z" fill="#0f0"/>
<path d="M415.98,461.85 L420.18,469.45 L411.78,469.45 Z" fill="#0f0"/>
<circle cx="351.82" cy="455.64" r="3.3" fill="#f00" stroke="none" stroke-width="0"/>
<circle cx="361.85" cy="448.12" r="3.3" fill="#f00" stroke="none" stroke-width="0"/>
<circle cx="384.4" cy="430.42" r="3.3" fill="#f00" stroke="none" stroke-width="0"/>
<circle cx="415.98" cy="404.67" r="3.3" fill="#f00" stroke="none" stroke-width="0"/>
<path d="M351.82,454.5 L354.92,457.6 L351.82,460.7 L348.72,457.6 Z" fill="#fff" stroke="#00f" stroke-width="1.5"/>
<path d="M361.85,447.17 L364.95,450.27 L361.85,453.37 L358.75,450.27 Z" fill="#fff" stroke="#00f" stroke-width="1.5"/>
<path d="M384.4,431.61 L387.5,434.71 L384.4,437.81 L381.3,434.71 Z" fill="#fff" stroke="#00f" stroke-width="1.5"/>
<path d="M415.98,409.26 L419.08,412.36 L415.98,415.46 L412.88,412.36 Z" fill="#fff" stroke="#00f" stroke-width="1.5"/>
<rect x="343.8" y="399.3" width="80.2" height="80.3" fill="none" stroke="#000" stroke-width="0.9"/>
<line x1="343.8" y1="479.6" x2="343.8" y2="477" stroke="#000" stroke-width="0.9" />
<line x1="343.8" y1="399.3" x2="343.8" y2="401.9" stroke="#000" stroke-width="0.9" />
<line x1="363.85" y1="479.6" x2="363.85" y2="477" stroke="#000" stroke-width="0.9" />
<line x1="363.85" y1="399.3" x2="363.85" y2="401.9" stroke="#000" stroke-width="0.9" />
<line x1="383.9" y1="479.6" x2="383.9" y2="477" stroke="#000" stroke-width="0.9" />
<line x1="383.9" y1="399.3" x2="383.9" y2="401.9" stroke="#000" stroke-width="0.9" />
<line x1="403.95" y1="479.6" x2="403.95" y2="477" stroke="#000" stroke-width="0.9" />
<line x1="403.95" y1="399.3" x2="403.95" y2="401.9" stroke="#000" stroke-width="0.9" />
<line x1="424" y1="479.6" x2="424" y2="477" stroke="#000" stroke-width="0.9" />
<line x1="424" y1="399.3" x2="424" y2="401.9" stroke="#000" stroke-width="0.9" />
<line x1="353.82" y1="479.6" x2="353.82" y2="478.1" stroke="#000" stroke-width="0.9" />
<line x1="353.82" y1="399.3" x2="353.82" y2="400.8" stroke="#000" stroke-width="0.9" />
<line x1="373.88" y1="479.6" x2="373.88" y2="478.1" stroke="#000" stroke-width="0.9" />
<line x1="373.88" y1="399.3" x2="373.88" y2="400.8" stroke="#000" stroke-width="0.9" />
<line x1="393.93" y1="479.6" x2="393.93" y2="478.1" stroke="#000" stroke-width="0.9" />
<line x1="393.93" y1="399.3" x2="393.93" y2="400.8" stroke="#000" stroke-width="0.9" />
<line x1="413.98" y1="479.6" x2="413.98" y2="478.1" stroke="#000" stroke-width="0.9" />
<line x1="413.98" y1="399.3" x2="413.98" y2="400.8" stroke="#000" stroke-width="0.9" />
<line x1="343.8" y1="466.54" x2="346.4" y2="466.54" stroke="#000" stroke-width="0.9" />
<line x1="424" y1="466.54" x2="421.4" y2="466.54" stroke="#000" stroke-width="0.9" />
<line x1="343.8" y1="448.66" x2="346.4" y2="448.66" stroke="#000" stroke-width="0.9" />
<line x1="424" y1="448.66" x2="421.4" y2="448.66" stroke="#000" stroke-width="0.9" />
<line x1="343.8" y1="430.78" x2="346.4" y2="430.78" stroke="#000" stroke-width="0.9" />
<line x1="424" y1="430.78" x2="421.4" y2="430.78" stroke="#000" stroke-width="0.9" />
<line x1="343.8" y1="412.89" x2="346.4" y2="412.89" stroke="#000" stroke-width="0.9" />
<line x1="424" y1="412.89" x2="421.4" y2="412.89" stroke="#000" stroke-width="0.9" />
<line x1="343.8" y1="475.49" x2="345.3" y2="475.49" stroke="#000" stroke-width="0.9" />
<line x1="424" y1="475.49" x2="422.5" y2="475.49" stroke="#000" stroke-width="0.9" />
<line x1="343.8" y1="457.6" x2="345.3" y2="457.6" stroke="#000" stroke-width="0.9" />
<line x1="424" y1="457.6" x2="422.5" y2="457.6" stroke="#000" stroke-width="0.9" />
<line x1="343.8" y1="439.72" x2="345.3" y2="439.72" stroke="#000" stroke-width="0.9" />
<line x1="424" y1="439.72" x2="422.5" y2="439.72" stroke="#000" stroke-width="0.9" />
<line x1="343.8" y1="421.83" x2="345.3" y2="421.83" stroke="#000" stroke-width="0.9" />
<line x1="424" y1="421.83" x2="422.5" y2="421.83" stroke="#000" stroke-width="0.9" />
<line x1="343.8" y1="403.95" x2="345.3" y2="403.95" stroke="#000" stroke-width="0.9" />
<line x1="424" y1="403.95" x2="422.5" y2="403.95" stroke="#000" stroke-width="0.9" />
<text x="0" y="0" font-size="10" text-anchor="middle" font-weight="normal" font-style="normal" fill="#000" transform="translate(339.6 470.14) rotate(0.03) scale(1 1)" >1</text>
<text x="0" y="0" font-size="10" text-anchor="middle" font-weight="normal" font-style="normal" fill="#000" transform="translate(339.6 452.26) rotate(0.03) scale(1 1)" >2</text>
<text x="0" y="0" font-size="10" text-anchor="middle" font-weight="normal" font-style="normal" fill="#000" transform="translate(339.6 434.38) rotate(0.03) scale(1 1)" >3</text>
<text x="0" y="0" font-size="10" text-anchor="middle" font-weight="normal" font-style="normal" fill="#000" transform="translate(339.6 416.49) rotate(0.03) scale(1 1)" >4</text>
<text x="0" y="0" font-size="9.5" text-anchor="middle" font-weight="normal" font-style="normal" fill="#000" transform="translate(343.8 491) rotate(0.03) scale(1 1)" >0</text>
<text x="0" y="0" font-size="9.5" text-anchor="middle" font-weight="normal" font-style="normal" fill="#000" transform="translate(383.9 491) rotate(0.03) scale(1 1)" >2000</text>
<text x="0" y="0" font-size="9.5" text-anchor="middle" font-weight="normal" font-style="normal" fill="#000" transform="translate(424 491) rotate(0.03) scale(1 1)" >4000</text>
<text x="0" y="0" font-size="11" text-anchor="middle" font-weight="normal" font-style="normal" fill="#000" transform="translate(385.8 502) rotate(0.03) scale(1 1)" ><tspan font-style="italic">T</tspan><tspan font-size="6.5" dy="-4.5" font-style="italic">2</tspan><tspan dy="4.5" font-size="1">&#8203;</tspan> (K<tspan font-size="6.5" dy="-4.5">2</tspan><tspan dy="4.5" font-size="1">&#8203;</tspan>)</text>
<text x="0" y="0" font-size="11.5" text-anchor="middle" font-weight="normal" font-style="normal" fill="#000" transform="translate(335.3 441) rotate(-90) scale(1 1)" ><tspan font-style="italic">&#956;</tspan><tspan font-size="7.5" dy="-4.5" font-style="italic">-1</tspan><tspan dy="4.5" font-size="1">&#8203;</tspan> (10<tspan font-size="7.5" dy="-4.5">-3</tspan><tspan dy="4.5" font-size="1">&#8203;</tspan> cm<tspan font-size="7.5" dy="-4.5">-2</tspan><tspan dy="4.5" font-size="1">&#8203;</tspan> Vs)</text>
</svg>
</body></html>
